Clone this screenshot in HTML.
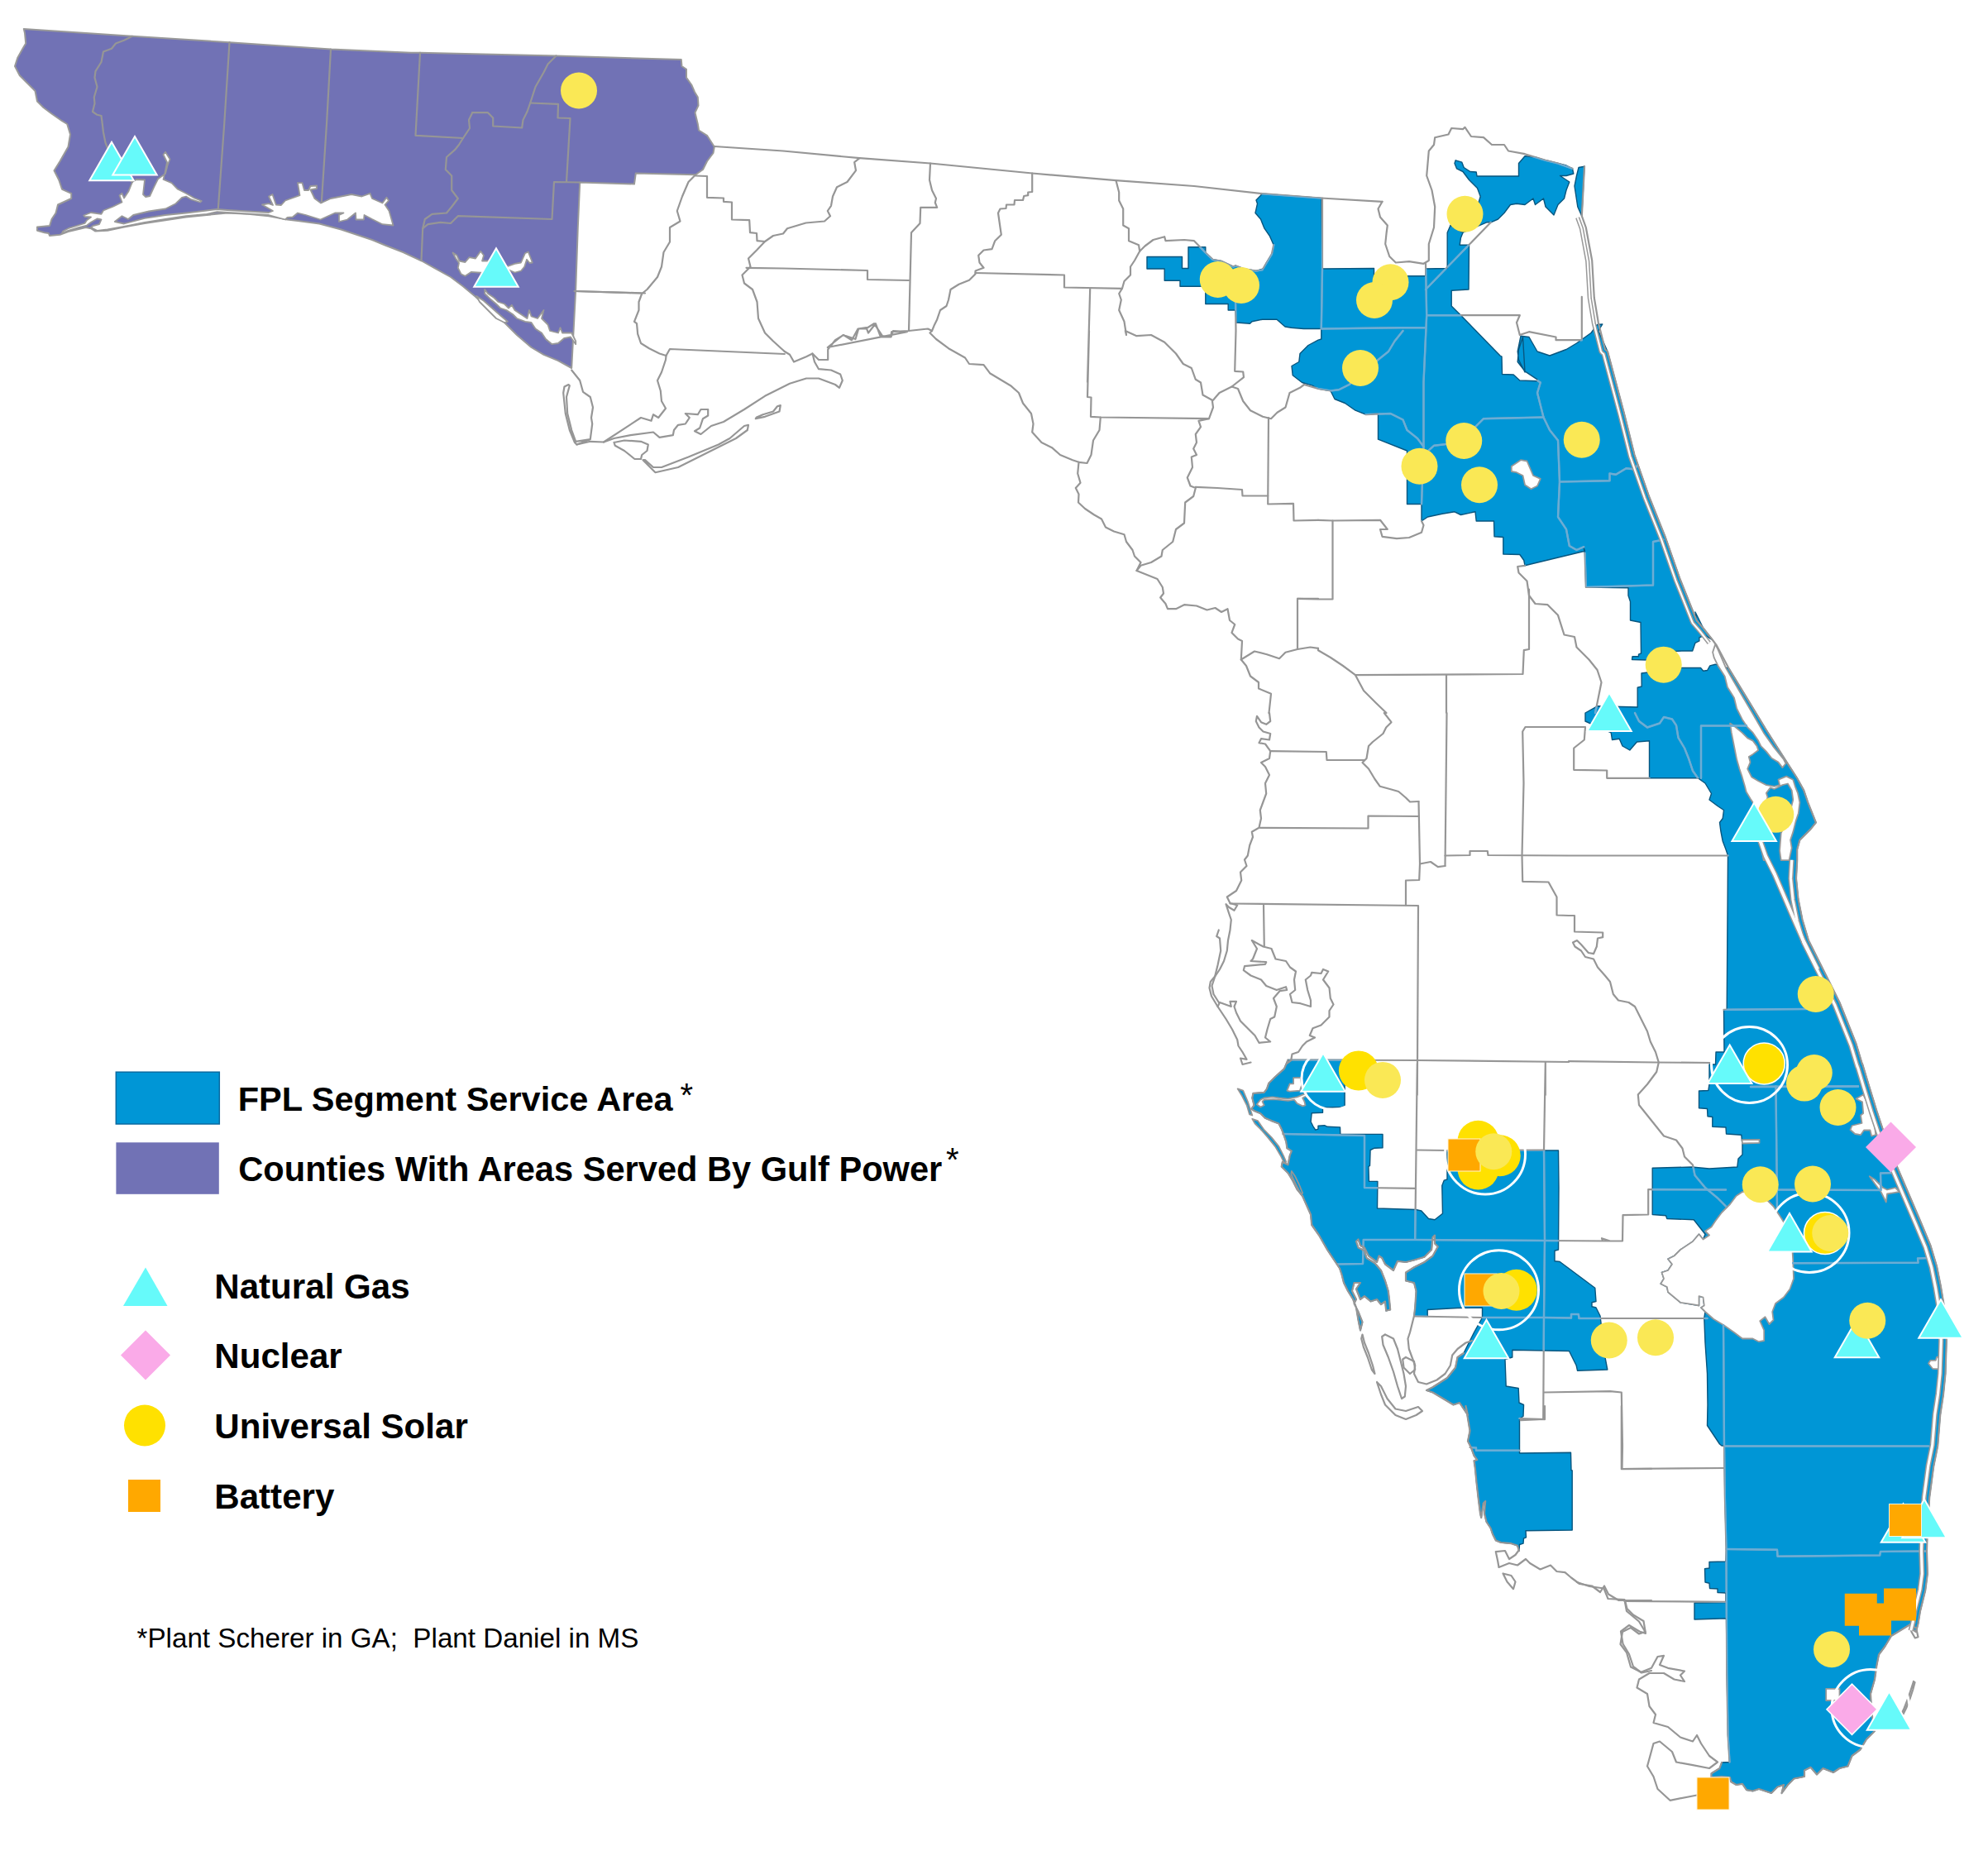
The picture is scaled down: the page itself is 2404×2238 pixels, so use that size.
<!DOCTYPE html><html><head><meta charset="utf-8"><style>html,body{margin:0;padding:0;background:#fff}svg{display:block}text{font-family:"Liberation Sans",sans-serif}</style></head><body><svg width="2404" height="2238" viewBox="0 0 2404 2238">
<g fill="#7172b5" stroke="#999" stroke-width="2" stroke-linejoin="round">
<path d="M28.8,35 L160,43.8 L277.5,51.2 L400,59.5 L497,63.8 L507.5,63.8 L672.5,67.5 L823.8,72 L824.5,80 L830,83.8 L830,93.8 L836.2,102.5 L840,111.2 L843.8,117.5 L844.5,127.5 L840.5,136.2 L843.8,150 L845,157.5 L855,163.8 L863.8,177.5 L862.5,185 L855,195 L850,205 L841.2,211.2 L768.8,209.5 L767,222.5 L701.2,220.5 L698.8,275 L696.2,350 L691.2,445 L675,436.2 L657.5,428.8 L642.5,420 L625,405 L610,390 L590,372.5 L575,358.8 L560,346.2 L545,335 L525,323.8 L510,315.5 L487.5,305 L465,296.2 L450,290 L412.5,277.5 L386.2,270.5 L360,267 L347.5,265.5 L325,261.2 L300,258.8 L275,257.5 L250,260 L225,262.5 L200,266.2 L175,270 L150,274.5 L130,278.8 L115,279.5 L110,276.2 L103.8,275 L82.5,280 L72.5,283.8 L60,285 L58.8,282 L53.8,281.2 L45,278.8 L45,274.5 L60,273 L62.5,265 L67.5,257.5 L70,247.5 L86.2,240 L86.2,233.8 L75,228.8 L71.2,217.5 L65.5,206.2 L72.5,195 L82.5,177.5 L85,162.5 L81.2,150 L75,146.2 L62.5,137.5 L52.5,130 L45,122.5 L42.5,110 L32.5,100 L23.8,91.2 L18,80 L21.2,70 L27.5,58.8 L31.2,52.5 L30,40Z"/>
</g>
<g fill="#0096d6" stroke="#08567f" stroke-width="1.4" stroke-linejoin="round">
<path d="M1387,310.5 L1429.5,310.5 L1429.5,324.5 L1437,324.5 L1437,298.8 L1444,298.8 L1457.8,298.8 L1457.8,305.5 L1466.5,313.8 L1476.5,315.5 L1491.5,322.5 L1494,321.2 L1504,325 L1519,327.5 L1527.8,325 L1531.5,317.5 L1539,305 L1540.2,296.2 L1535.2,285 L1529,276.2 L1524.5,265 L1518,257.5 L1520.5,246.2 L1519,242 L1526.5,234.2 L1597.8,239.5 L1599,325 L1661.5,324.5 L1661.5,333.8 L1724,333.8 L1724,325 L1750.2,324.5 L1750.2,281.2 L1754,272.5 L1769,281.2 L1766.5,287.5 L1765.2,296.2 L1776.5,296.2 L1776,350 L1755.2,351.2 L1755.2,370 L1766.5,381.2 L1814,430 L1816,431.2 L1816.5,452.5 L1830.2,453 L1837.8,460 L1859,460.8 L1859,458.8 L1844,448.8 L1835.2,437.5 L1836.5,422.5 L1841.5,407.5 L1844,450 L1836.5,435 L1835.2,425 L1839,406.2 L1849,407.5 L1859,425 L1874,430 L1894,422.5 L1906.5,415 L1924,402.5 L1931.5,392.5 L1937.8,392 L1932.8,400 L1944,425 L1954,462.5 L1964,500 L1976.5,550 L1994,600 L2014,650 L2031.5,700 L2051.5,750 L2050,740 L2059.7,759.5 L2071.1,774 L2061.3,767.9 L2058.1,769.5 L2054.9,770.8 L2054.9,774.9 L2050,777.3 L2046.7,787 L2033.8,787 L2006.2,788.6 L1991.5,798 L1973.5,797.5 L1974,793.8 L1981.5,793.8 L1981.5,791.2 L1984.5,790 L1984,752.5 L1971.5,750 L1971.5,727.5 L1969,720 L1969,710.8 L1917.8,710 L1916.5,668.8 L1915.2,662.5 L1916.5,666.2 L1844,683.8 L1842.8,677.5 L1837.8,670.5 L1817.8,670 L1817.8,649.5 L1807,648.8 L1806.5,630 L1785.2,630 L1784,618.8 L1766.5,622.5 L1759,618.8 L1744,621.2 L1726.5,625 L1719,630 L1719,609.5 L1701.5,609.5 L1701.5,580 L1701.5,545 L1666.5,531.2 L1666.5,500 L1651.5,501.2 L1639,496.2 L1626.5,487.5 L1614,482.5 L1609,472.5 L1594,470 L1587,466.2 L1574.5,462.5 L1563.2,453.8 L1562,442.5 L1570.8,437.5 L1572,427.5 L1582,417.5 L1594,411.2 L1597.8,410 L1597.8,397.5 L1576.5,397.5 L1561.5,396.2 L1554,395 L1544,386.2 L1526.5,386.2 L1514,388.8 L1511.5,391.2 L1495.2,390 L1494,375 L1485.2,375 L1485.2,367.5 L1457.8,367.5 L1457.8,346.2 L1444,346.2 L1427,346.2 L1427,339.2 L1408.2,339.2 L1408.2,325 L1387,325Z"/>
<path d="M1760.2,193.8 L1767.8,196.2 L1770.2,202.5 L1777.8,207.5 L1785.2,208 L1786,213 L1836.5,213 L1836.5,197.5 L1844,188.8 L1856.5,190 L1869,193.8 L1884,197.5 L1894,200 L1901.5,203.8 L1902.8,210 L1894,212.5 L1886.5,212.5 L1894,217.5 L1897.8,220 L1894,230 L1891.5,240 L1884,247.5 L1879,260 L1874,255 L1869,250 L1866.5,240 L1856.5,247.5 L1854,240 L1844,247.5 L1834,246.2 L1826.5,247.5 L1819,257.5 L1811.5,265 L1802.8,268.8 L1797.8,268.8 L1769,281.2 L1754,272.5 L1769,265 L1786.5,250 L1790.2,237.5 L1786.5,227.5 L1776.5,217.5 L1769,207.5 L1761.5,203.8 L1759,197.5Z"/>
<path d="M1909,202.5 L1916,201.2 L1912.8,261.2 L1907.8,250 L1904,225 L1906.5,212.5Z"/>
<path d="M1985,814 L2034,807.5 L2056.5,807.5 L2059.7,811.3 L2064.6,810.5 L2067.8,804.9 L2074.3,803.2 L2090.5,808.1 L2113.2,845.4 L2135.9,882.7 L2158.6,918.3 L2173.2,941 L2181.3,955.6 L2186.2,970.2 L2195.9,994.5 L2189.4,1002.6 L2176.4,1015.6 L2173.2,1027 L2173.2,1040.1 L2172,1062 L2174.5,1087 L2179.5,1112 L2187,1137 L2199.5,1162 L2212,1187 L2224.5,1212 L2234.5,1237 L2244.5,1262 L2252,1287 L2252,1286 L2259.5,1311 L2269.5,1343.5 L2277,1366 L2292,1406 L2307,1441 L2322,1476 L2334.5,1506 L2342,1531 L2347,1556 L2352,1586 L2353.8,1621 L2352.5,1661 L2350,1686 L2346.2,1711 L2343.2,1748 L2338.2,1773 L2333.2,1810.5 L2330.8,1848 L2330,1875.5 L2330.8,1903 L2328.2,1923 L2322,1948 L2319.5,1963 L2317,1973 L2313.2,1970.5 L2315.8,1960.5 L2287,1978 L2279.5,1990.5 L2272,2000.5 L2269.5,2013 L2267,2030.5 L2262,2048 L2263.2,2070.5 L2267,2093 L2257,2103 L2249.5,2115.5 L2239.5,2123 L2234.5,2135.5 L2224.5,2138 L2217,2143 L2204.5,2138 L2197,2145.5 L2189.5,2136.8 L2182,2140.5 L2182,2148 L2169.5,2150.5 L2162,2158 L2154.5,2168 L2157,2158 L2149.5,2160.5 L2142,2168 L2134.5,2165.5 L2127,2163 L2119.5,2165.5 L2112,2164.2 L2107,2156.8 L2099.5,2158 L2093.2,2154.2 L2092,2149.2 L2069.5,2149.2 L2069.5,2144.2 L2079.5,2138 L2082,2131 L2091.5,2130.5 L2089.5,2098 L2088.2,2023 L2087.5,1956.8 L2049,1958 L2049,1938 L2087,1937.5 L2087,1926 L2077,1925.5 L2077,1921 L2067.5,1920.5 L2067,1914.2 L2062,1913 L2061.5,1896.8 L2067,1896 L2067,1888.5 L2087,1888 L2087.5,1873 L2085.8,1808 L2085,1748 L2082,1748 L2079.5,1746 L2064.5,1723.5 L2065,1698.5 L2064.5,1661 L2062,1623.5 L2060.8,1593.5 L2062,1586 L2057,1581 L2060.8,1578.5 L2059.5,1568.5 L2054.5,1567.2 L2054.5,1578.5 L2047,1577.2 L2032,1574.8 L2024.5,1568.5 L2017,1562.2 L2015.8,1556 L2008.2,1552.2 L2012,1546 L2009.5,1538.5 L2017,1536 L2022,1528.5 L2017,1522.2 L2024.5,1518.5 L2032,1511 L2047,1501 L2054.5,1492.2 L2059.5,1498.5 L2062,1492.2 L2048.2,1474.8 L2015.8,1473.5 L2014.5,1469.8 L1998.2,1468.5 L1998.2,1412.2 L2045.8,1411 L2067,1413 L2100.8,1411 L2102,1401 L2107,1396 L2107,1382.2 L2127,1381 L2127,1379 L2106.5,1379.8 L2105.8,1372.2 L2087.5,1371 L2087,1363 L2070.8,1362.2 L2070.8,1350.5 L2065,1349.8 L2064.5,1340.5 L2054.5,1339.8 L2054.5,1319 L2065.8,1318.5 L2067,1311 L2067,1287 L2074.5,1287 L2075,1272 L2085,1272 L2084.5,1221.5 L2088.2,1220.8 L2089.5,1034.5 L2087,1027 L2083.2,1017 L2080.8,1004.5 L2079.5,994.5 L2083.2,989.5 L2084.5,979.5 L2077,974.5 L2067,967 L2069.5,959.5 L2062,947 L2053.2,940.8 L1994.5,940.8 L1994.5,895.8 L1979.5,897 L1970.8,907 L1962,902 L1958.2,893.2 L1949.5,894.5 L1948.2,885.8 L1917,872 L1917,862 L1931.5,853.8 L1980.2,855 L1980.2,831.2 L1985.2,830Z"/>
<path d="M1557.5,1281.5 L1626.1,1281.5 L1626.1,1337.4 L1622.8,1338.5 L1599.5,1339.1 L1599.5,1345.2 L1586.2,1345.7 L1585.1,1356.2 L1587.9,1361.8 L1590.7,1366.2 L1594,1365.1 L1594,1361.2 L1601.7,1360.7 L1605.1,1362.3 L1620.5,1362.9 L1620.8,1371.2 L1672,1371.4 L1672,1387.8 L1661.5,1388.3 L1657.1,1390.5 L1656.5,1409.4 L1654.9,1410.5 L1655.4,1428.2 L1665.9,1428.4 L1665.5,1461 L1712,1462.5 L1718.8,1464 L1727.5,1473.5 L1735,1474.8 L1744.5,1467.2 L1743.8,1433.5 L1746.2,1427.2 L1750,1426 L1750,1391 L1845,1391 L1884.5,1391 L1885,1436 L1884.5,1511 L1880,1512.2 L1880,1524.8 L1886.2,1525.5 L1928.8,1557.2 L1930,1573.5 L1925,1574.8 L1925,1579.8 L1930,1581 L1935,1591 L1936.2,1601 L1940,1636 L1943.8,1656 L1907.5,1657.2 L1906.2,1651 L1897.5,1633.5 L1828.8,1632.2 L1828.8,1641 L1820,1643.5 L1821.2,1676 L1836.2,1678.5 L1837,1696 L1842.5,1698.5 L1842.5,1700 L1842,1712.5 L1837.5,1715 L1837.5,1757 L1899.5,1756.2 L1900,1777.5 L1901.2,1778 L1901.2,1850 L1845,1850.8 L1845.5,1858.8 L1842.5,1860 L1842,1866.2 L1837.5,1867.5 L1837,1875 L1835,1868.8 L1827.5,1866.2 L1815,1865 L1808.8,1862.5 L1805,1855 L1802.5,1847.5 L1797.5,1840 L1795,1830 L1796.2,1815 L1793.8,1817.5 L1791.2,1835 L1790,1830 L1787.5,1810 L1785.5,1792.5 L1783.8,1775 L1782.5,1766.2 L1786.2,1765 L1782.5,1760 L1778.8,1750 L1775,1742.5 L1777.5,1730 L1775,1715 L1772.5,1700 L1775,1711 L1765,1696 L1757.5,1698.5 L1745,1691 L1732.5,1683.5 L1725,1681 L1732.5,1677.2 L1750,1666 L1760,1653.5 L1762.5,1641 L1770,1636 L1782.5,1611 L1792.5,1593 L1792.5,1581 L1762.5,1581.5 L1726.2,1583.5 L1726.2,1591.5 L1710,1591 L1711.2,1581 L1712.5,1561 L1710,1551 L1700,1548.5 L1700,1538.5 L1710,1532.2 L1722.5,1526 L1732.5,1518.5 L1738.8,1507.2 L1735,1503.5 L1735,1493.5 L1732.5,1496 L1731.2,1511 L1722.5,1519.8 L1710,1523.5 L1700,1526 L1690,1524.8 L1685,1536 L1675,1528.5 L1671.2,1521 L1667.5,1518.5 L1665,1526 L1655,1518.5 L1650,1508.5 L1645,1506 L1642.5,1498.5 L1640,1501 L1642.5,1508.5 L1650,1512.2 L1652.5,1521 L1662.5,1527.2 L1670,1536 L1675,1548.5 L1678.8,1561 L1680,1571 L1681.2,1583.5 L1676.2,1584.8 L1675,1573.5 L1670,1577.2 L1665,1571 L1657.5,1573.5 L1650,1567.2 L1645,1571 L1640,1558.5 L1645,1551 L1637.5,1551 L1635,1561 L1640,1571 L1637.5,1576 L1642.5,1586 L1647.5,1598.5 L1645,1608.5 L1642.5,1596 L1640,1581 L1636.2,1571 L1630,1561 L1625,1551 L1622.5,1541 L1620,1533.5 L1615,1526 L1605,1511 L1595,1493.5 L1586.2,1481 L1585,1468.5 L1575,1446 L1568.5,1438.1 L1563,1427.1 L1557.5,1418.2 L1549.7,1410.5 L1550.8,1404.9 L1557.5,1408.3 L1559.7,1397.2 L1561.9,1391.7 L1556.4,1388.3 L1555.3,1380.6 L1551.9,1370.6 L1549.7,1365.1 L1546.4,1358.5 L1537.5,1355.1 L1529.8,1351.8 L1524.3,1346.3 L1516.5,1343 L1513.2,1340.7 L1516.5,1336.3 L1514.3,1327.5 L1515.4,1321.9 L1528.7,1320.8 L1532,1316.4 L1534.2,1309.8 L1542,1302 L1553,1292.1 L1557.5,1281.5Z"/>
</g>
<g fill="#fff" stroke="#999" stroke-width="1.8" stroke-linejoin="round">
<path d="M101.2,260.5 L110,257 L122.5,258.8 L125,254.5 L136.2,250 L147.5,244.5 L144.5,236.2 L147.5,233.8 L150,239.5 L155.5,231.2 L160,220 L165,217 L175,217.5 L173,235 L176.2,238 L181.2,237 L186.2,226.2 L191.2,216.2 L200,210 L202.5,200 L205.5,192.5 L200,183.8 L197.5,187 L202,196.2 L199.5,208.8 L197.5,217 L207.5,221.2 L215,228.8 L225,233.8 L235,239.5 L243.8,243 L242,244.5 L231.2,241.2 L225,237.5 L220,238.8 L212.5,246.2 L200,252.5 L180,255.5 L161.2,260 L155,265 L147.5,261.2 L138.8,268 L150,270.5 L175,263.8 L200,260 L225,257.5 L250,254.5 L262.5,253 L275,254 L300,255.5 L325,257 L330,255 L317,247.5 L325,246.2 L330,248 L325,237.5 L329.5,235 L333.8,247.5 L340,248 L345,242.5 L362.5,236.2 L360,221.2 L365.5,221.2 L368,230 L373,230 L375.5,225 L383,224.5 L383,228 L375.5,229.5 L380.5,240 L388,245.5 L400,240 L425,235 L437.5,237.5 L447.5,233.8 L450,240 L462.5,245.5 L467.5,238.8 L470,242.5 L465.5,247.5 L470.5,255 L475.5,272.5 L462.5,271.2 L450,265 L440.5,260 L440,265.5 L430.5,265.5 L430,257.5 L420,265.5 L410,268 L410,260 L415.5,257.5 L405,257.5 L387.5,265.5 L370,260 L360,257.5 L353.8,262.5 L347.5,263 L345,265.5 L325,260 L300,258.5 L275,257 L262.5,256.2 L250,258.8 L225,261.2 L200,265 L175,268.8 L150,273.8 L130,277.5 L117.5,278.8 L110,275 L112.5,273 L120,271.2 L122.5,265.5 L117.5,264.5 L110,268.8 L105,272.5 L95,275 L82.5,278.8 L75,282 L76.2,279.5 L82.5,276.2 L102.5,270 L105,266.2 L110,262.5 L102.5,262Z"/>
<path d="M547.5,305.5 L552.5,308.8 L555.5,315.5 L562.5,317 L567.5,311.2 L575,312.5 L581.2,303.8 L585,308.8 L583,315.5 L595,315.5 L605,320 L612.5,322.5 L622.5,318.8 L630,317.5 L635,306.2 L638.8,304.5 L643.8,317.5 L640.5,318 L637,313.8 L634.2,322.5 L630,327.5 L622.5,329.5 L615,326.2 L610,327.5 L600,330 L585,330 L570,328.8 L562.5,333.8 L557.5,331.2 L553.8,323.8 L555,318 L551.2,312.5Z"/>
<path d="M586.2,350 L590,355 L597.5,360 L602.5,365 L610,367.5 L615,372.5 L618.8,368.8 L622.5,375 L630,380 L637.5,385 L640,375 L642.5,382.5 L650,385 L657.5,375 L655,385 L662.5,392.5 L665,400 L675,402.5 L677.5,396.2 L680,402.5 L691.2,402.5 L696.2,412.5 L696.2,416.2 L690,407.5 L682.5,408.8 L675,415 L667.5,416.2 L660,410 L655,402.5 L647.5,397.5 L642.5,390 L635,388.8 L625,385 L620,380 L612.5,375 L605,372.5 L600,367.5 L592.5,361.2 L586.2,355Z"/>
<path d="M576.2,358 L585,363.8 L595,372.5 L605,381.2 L613.8,388.8 L610,390 L600,385 L590,375 L580,365Z"/>
<path d="M1827.8,563.8 L1839,556.2 L1846.5,557.5 L1854,575 L1862.8,578.8 L1859,587.5 L1851.5,591.2 L1844,586.2 L1841.5,575 L1834,571.2 L1827.8,570Z"/>
<path d="M2107,1441 L2099.5,1446 L2092,1456 L2082,1466 L2074.5,1476 L2069.5,1483.5 L2062,1488.5 L2067,1493.5 L2059.5,1498.5 L2054.5,1492.2 L2047,1501 L2032,1511 L2024.5,1518.5 L2017,1522.2 L2022,1528.5 L2017,1536 L2009.5,1538.5 L2012,1546 L2008.2,1552.2 L2015.8,1556 L2017,1562.2 L2024.5,1568.5 L2032,1574.8 L2047,1577.2 L2054.5,1578.5 L2054.5,1567.2 L2059.5,1568.5 L2060.8,1578.5 L2057,1581 L2062,1586 L2072,1594.8 L2084.5,1602.2 L2097,1611 L2107,1618.5 L2119.5,1618.5 L2127,1622.2 L2133.2,1621 L2133.2,1608.5 L2128.2,1597.2 L2134.5,1592.2 L2139.5,1601 L2144.5,1596 L2143.2,1586 L2147,1576 L2157,1568.5 L2164.5,1558.5 L2169,1546 L2168.2,1523.5 L2167,1503.5 L2162,1486 L2154.5,1473.5 L2144.5,1458.5 L2132,1446 L2119.5,1439.8Z"/>
<path d="M2208.2,2041.8 L2224.5,2041.8 L2224.5,2056 L2208.2,2056Z"/>
<path d="M2244.5,1328.5 L2252,1332.2 L2253.2,1346 L2250,1348.5 L2251.5,1358 L2239.5,1361 L2237.5,1366 L2243.2,1371 L2250,1372.2 L2254,1366.5 L2261.5,1366.5 L2263.2,1373.5 L2268.2,1372.2 L2267,1361 L2262,1346 L2257,1331 L2253.2,1323.5Z"/>
<path d="M2347.5,1639.8 L2342,1641 L2340.8,1644.8 L2334.5,1644.8 L2332,1648.5 L2337,1654.8 L2347.5,1655.5Z"/>
<path d="M2260.8,1422.2 L2267,1426 L2277,1436 L2282,1438.5 L2292,1436 L2297,1441 L2282,1443.5 L2280.8,1453.5 L2274.5,1441 L2267,1431Z"/>
<path d="M2071.1,788.6 L2074.3,778.9 L2077.5,785.4 L2087.3,808.1 L2103.5,835.7 L2119.7,863.2 L2132.7,885.9 L2144,902.1 L2157,918.3 L2159.4,923.2 L2155.4,928.1 L2150.5,921.6 L2142.4,916.7 L2135.9,908.6 L2129.4,902.1 L2126.2,895.6 L2119.7,885.9 L2113.2,879.4 L2106.7,869.7 L2100.2,856.7 L2097,843.8 L2088.9,830.8 L2085.7,817.8 L2077.5,804.9 L2072.7,795.1Z"/>
<path d="M2092.1,874.6 L2097,877.8 L2106.7,885.9 L2113.2,892.4 L2119.7,895.6 L2124.6,902.1 L2126.2,907 L2119.7,911.9 L2114.8,915.1 L2116.5,921.6 L2113.2,929.7 L2118.1,939.4 L2126.2,944.3 L2135.9,949.1 L2145.6,950.8 L2152.1,949.1 L2150.5,942.7 L2160.2,938.6 L2168.3,942.7 L2170.8,950.8 L2174,958.9 L2176.4,970.2 L2174.8,983.2 L2171.6,992.9 L2168.3,1005.9 L2165.1,1015.6 L2166.7,1025.3 L2163.5,1040.1 L2153.7,1040.1 L2152.1,1028.6 L2153.7,1007.5 L2160.2,992.9 L2165.1,979.9 L2168.3,967 L2166.7,955.6 L2161.9,947.5 L2155.4,949.1 L2152.1,950.8 L2145.6,954 L2140.8,952.4 L2135.9,958.9 L2137.5,963.7 L2132.7,983.2 L2129.4,1015.6 L2139.2,1040.1 L2132.7,1040.1 L2127.8,1015.6 L2119.7,970.2 L2116.5,965.4 L2111.6,957.3 L2110,950.8 L2106.7,939.4 L2103.5,929.7 L2100.2,918.3 L2097,902.1 L2093.8,885.9Z"/>
<path d="M1528.7,1327.5 L1538.7,1326.4 L1546.4,1327.5 L1557.5,1328.6 L1568.5,1326.4 L1574.1,1324.1 L1579.6,1321.9 L1579.6,1325.3 L1575.2,1327.5 L1577.4,1331.9 L1578.5,1336.3 L1575.2,1337.4 L1568.5,1334.1 L1565.2,1329.7 L1557.5,1330.8 L1546.4,1329.7 L1539.8,1329.1 L1528.7,1329.7 L1526.5,1331.9 L1528.7,1336.3 L1524.3,1338.5 L1519.8,1335.2 L1524.3,1329.7Z"/>
<path d="M1556.4,1318.6 L1559.7,1310.3 L1564.1,1310.3 L1564.1,1303.1 L1573,1302.9 L1574.1,1312 L1571.9,1318.6 L1559.7,1319.7Z"/>
<path d="M2106.5,1378.2 L2127.5,1377.8 L2127.5,1381.8 L2107,1382.5Z"/>
</g>
<g fill="none" stroke="#969696" stroke-width="2.2" stroke-linejoin="round" stroke-linecap="round">
<path d="M160,43.8 L150,48.8 L140,52.5 L135,58.8 L125,62.5 L122.5,75 L115.5,86.2 L114.5,93.8 L117.5,105 L113.8,117.5 L114.5,125 L112,135 L117.5,138.8 L122.5,140 L123.8,150 L125,160 L127.5,172.5 L132.5,185 L140,200 L150,212.5 L160,220"/>
<path d="M277.5,51.2 L271.2,150 L263.8,252.5"/>
<path d="M400,59.5 L395,150 L388.8,245"/>
<path d="M508,63.8 L502.5,163.8 L560,167"/>
<path d="M571.2,136.2 L567,145 L568,155 L560,167 L555,175 L550,181.2 L540,190 L538.8,205 L546.2,212.5 L546.2,230 L553.8,240 L546.2,250 L540,257.5 L522.5,258.8 L513.8,265 L511.2,276.2 L509.5,315"/>
<path d="M511.2,276.2 L517.5,271.2 L532.5,268.8 L545,270 L553.8,261.2 L667.5,265 L670,220 L701.2,220.5"/>
<path d="M571.2,136.2 L590,136.2 L596.2,142.5 L596.2,152.5 L631.2,154.5 L632.5,145 L637.5,135 L641.2,124.5 L647.5,105 L657.5,87.5 L662.5,77.5 L672.5,67.5"/>
<path d="M641.2,124.5 L675,125.8 L674.5,142.5 L689.5,143 L685,220"/>
<path d="M863.8,177 L947,182.5 L1039.5,191.2 L1125,197.5 L1248.2,209.5 L1349.5,218.2 L1444,225 L1526.5,234.2 L1597.8,239.5 L1671.5,243.8"/>
<path d="M841.2,211.2 L832.5,220 L825,237.5 L818.8,255 L822.5,267.5 L810,275 L810,292.5 L802.5,305 L800,322.5 L795,335 L782.5,350 L782.5,350 L776.2,355 L772.5,365 L772.5,375 L767,388.8 L770,391.2 L771.2,403.8 L775,415 L785,421.2 L797.5,427.5 L805.5,430 L805,435 L800,450 L795,460 L798.8,472.5 L800,485 L805,493.8 L796.2,505 L790,501.2 L787.5,508.8 L775,505 L730,534.5"/>
<path d="M695,352 L775,354.5"/>
<path d="M841.2,212.5 L855,213 L855,238.8 L875,239.5 L875,243.8 L885,244.5 L885,265.5 L906.2,266.2 L907,281.2 L915,282 L915.5,291.2 L925,292"/>
<path d="M1039.5,191.2 L1033.2,196.2 L1035,206.2 L1024.5,220 L1012,226.2 L1007,237.5 L1005,248.8 L1000.8,255 L1004,261.2 L997,267.5 L974.5,269.5 L964.5,272.5 L952,276.2 L947,282.5 L935,285 L925,292 L915,302.5 L905,312.5 L907.5,322.5 L897.5,332.5 L900,342.5 L910,350 L910,350 L915.5,365 L917,385 L925,402.5 L935,412.5 L948.8,425"/>
<path d="M902.5,323.8 L947,324.5 L1049,327 L1049,338 L1099,339"/>
<path d="M694.5,352 L780,354.5"/>
<path d="M805.5,430 L810,422 L948.8,428"/>
<path d="M1125,197.5 L1124,217.5 L1127,230 L1132,240 L1130.8,245 L1133.2,250.8 L1113.2,250.8 L1112.5,270 L1102,281.2 L1099,400"/>
<path d="M1248.2,209.5 L1248.2,232 L1243.2,232.5 L1243.2,236.2 L1238.2,237 L1237,242 L1227,242 L1226.5,247.5 L1217,247.5 L1216.5,252 L1209.5,252.5 L1207,257.5 L1209.5,275 L1210.8,283.8 L1203.2,291.2 L1199.5,301.2 L1189.5,302.5 L1183.2,308.8 L1184.5,317.5 L1189.5,323.8 L1179.5,327.5 L1179.5,331.2 L1172,338.8 L1159.5,343.8 L1149.5,350 L1147,362.5 L1144.5,370 L1137,375 L1133.2,386.2 L1129.5,393.8 L1127,400"/>
<path d="M1179.5,330 L1287,332.5 L1287,347.5 L1357,348.8"/>
<path d="M1349.5,218.2 L1353.2,232.5 L1353.2,242.5 L1358.2,252.5 L1358.2,272.5 L1365,276.2 L1365,291.2 L1377,296.2 L1378.2,303.8"/>
<path d="M1540.2,296.2 L1537.8,307.5 L1530.2,320 L1526.5,326.2 L1519,327.5 L1504,325 L1494,321.2 L1491.5,322.5 L1476.5,315.5 L1466.5,313.8 L1457.8,305.5 L1444,291.2 L1432,290 L1409.5,291.2 L1408.2,286.2 L1394.5,290 L1384.5,297.5 L1378.2,303.8 L1372,315 L1367,322.5 L1367,332.5 L1359.5,340 L1357,348.8 L1353.2,355 L1355.8,362.5 L1353.2,375 L1359.5,388.8 L1362,405 L1360.8,400 L1374.5,406.2 L1392,405 L1408.2,413.8 L1422,427.5 L1430.8,440 L1440.8,445 L1445.8,458.8 L1452,462.5 L1454.5,477.5 L1465.8,483.8 L1467,492.5 L1462,506.2 L1449.5,508.8 L1452,516.2 L1445.8,525 L1447,535 L1443.2,542.5 L1447,550 L1440.8,552.5 L1442,565 L1435.8,577.5 L1439.5,587.5 L1445.8,590 L1443.2,600 L1433.2,607.5 L1432,632.5 L1422,640 L1418.2,655 L1405.8,665 L1404.5,672.5 L1392,680 L1379.5,683.8 L1374.5,690"/>
<path d="M1318.2,349.5 L1315,462 L1317,400 L1315,480 L1319.5,480.5 L1319,503.8 L1330.8,504.5 L1462,506.2"/>
<path d="M1330.8,504.5 L1329.5,520 L1322,532.5 L1319.5,550 L1314.5,560 L1304.5,558.8"/>
<path d="M1467,483.8 L1474.5,475 L1489.5,467.5 L1497,470 L1503.2,485 L1512,496.2 L1527,503.8 L1537,506.2 L1544.5,498.8 L1554.5,492.5 L1559.5,475 L1572,468.8 L1577,465 L1594,470 L1609,472.5 L1619,471.2 L1631.5,465 L1666.5,435 L1679,425 L1686.5,412.5 L1696.5,400"/>
<path d="M1494,360 L1494.5,400 L1493.2,448.8 L1503.2,449.5 L1504,456.2 L1489.5,467.5"/>
<path d="M1534,505 L1533.2,609.5 L1564,608.8 L1564.5,629.5 L1594,628.8"/>
<path d="M1445.8,588.8 L1472,590 L1502,592 L1502.5,599.5 L1533.2,599.5"/>
<path d="M1594,723.8 L1569,723.8 L1569,785"/>
<path d="M1500.8,797.5 L1517,787.5 L1532,791.2 L1547,796.2 L1554.5,788.8 L1569,785 L1584.5,782.5 L1594,783.8"/>
<path d="M1599,239.5 L1599,325 L1597.8,397.5"/>
<path d="M1671.5,243.8 L1666.5,252.5 L1669,262.5 L1677.8,272.5 L1676.5,282.5 L1675.2,295 L1680.2,310 L1687.8,317.5 L1704,316.2 L1721.5,318.8 L1727.8,315 L1727.8,295 L1734,275 L1735.2,250 L1731.5,230 L1725.2,212.5 L1727.8,182.5 L1734,175 L1735.2,166.2 L1751.5,162.5 L1755.2,155 L1769,156.2 L1771.5,153.8 L1779,165 L1794,166.2 L1804,175 L1819,175 L1824,182.5 L1844,186.2 L1856.5,190 L1869,193.8 L1884,197.5 L1901.5,203.8"/>
<path d="M1724,318.8 L1725.2,381.2 L1721.5,462 L1721.5,542.5 L1719,609.5"/>
<path d="M1802.8,268.8 L1724,350"/>
<path d="M1597.8,397.5 L1694,396.2 L1722.8,396.2"/>
<path d="M1725.2,381.2 L1837.8,381.2 L1834,390 L1837.8,405 L1849,401.2 L1881.5,407.5 L1881.5,411.2 L1912.8,411.2 L1912.8,358.8"/>
<path d="M1866.5,504.5 L1794,506.2 L1784,516.2 L1749,537 L1734,538.8 L1721.5,550"/>
<path d="M1859,460 L1862.8,462.5 L1859,475 L1866.5,504.5 L1874,520 L1884,532.5 L1886,582.5 L1884,625 L1894,640 L1897.8,660 L1906.5,665 L1915.2,661.2"/>
<path d="M1886,582.5 L1946.5,581.2 L1946.5,572.5 L1954,573.8 L1966.5,566.2 L1976.5,567.5 L1980.2,562.5"/>
<path d="M1916.5,668.8 L1917.8,710 L1999,707.5 L1999,655 L2011.5,652.5"/>
<path d="M1594,628.8 L1611.5,629.5 L1669,628.8 L1677.8,640 L1669,640 L1671.5,648.8 L1689,651.2 L1704,650 L1719,643.8 L1721.5,635 L1719,630"/>
<path d="M1611.5,629.5 L1611.5,724.5 L1594,724.5 L1569,723.8"/>
<path d="M1844,683.8 L1835.2,685 L1836.5,692.5 L1846.5,702.5 L1849,720 L1856.5,730 L1871.5,731.2 L1884,743.8 L1891.5,767.5 L1904,770 L1906.5,782.5 L1921.5,797.5 L1931.5,810 L1936.5,825 L1931.5,850 L1929,862"/>
<path d="M1849,712.5 L1849,785 L1842.8,786.2 L1841.5,815 L1639,816.2"/>
<path d="M1749,816.2 L1749,862 L1749.5,862 L1747.5,1047"/>
<path d="M1594,783.8 L1594,786.2 L1609,795 L1624,805 L1639,816.2 L1649,835 L1664,850 L1676.5,862 L1673.8,862 L1682.5,873.2 L1676.2,879.5 L1672.5,887 L1660,897 L1655,902 L1652.5,917 L1647.5,922 L1655,929.5 L1662.5,942 L1668.8,950.8 L1682.5,954.5 L1691.2,957 L1700,964.5 L1705,969.5 L1715.5,969"/>
<path d="M1651.5,501.2 L1681.5,500 L1696.5,507.5 L1701.5,520 L1714,530 L1721.5,540"/>
<path d="M1536.2,908.2 L1603.8,909 L1604.5,919 L1650,919"/>
<path d="M1523.8,1000.8 L1654.5,1001.5 L1654.5,986.5 L1715.5,987"/>
<path d="M1715.5,969 L1717,1044.5 L1730,1042 L1738.8,1048.2 L1747.5,1047"/>
<path d="M1717,1044.5 L1716.2,1064 L1700,1064.5 L1700,1094.5"/>
<path d="M1487.5,1092.5 L1715,1095 L1713.8,1324 L1713.8,1286 L1712.5,1391 L1711.2,1498.5"/>
<path d="M1528,1094.5 L1528.8,1144.5"/>
<path d="M1560,1281.5 L1713.8,1282 L1897,1284"/>
<path d="M1747.5,1034.5 L1777.5,1034 L1777.5,1029 L1798.8,1029 L1799.5,1034 L1897,1034.5 L2089.5,1034.5"/>
<path d="M1897,879 L1844.5,879 L1841.2,884.5 L1842.5,947 L1840.5,1034.5 L1841.2,1065.8 L1872.5,1066.5 L1882.5,1084.5 L1882.5,1106.5 L1897,1107 L1904,1107 L1904,1126.5 L1938.2,1127.5 L1938.2,1133.2 L1932,1134.5 L1930.8,1144.5 L1927,1153.2 L1920.8,1152 L1912,1142 L1907,1137 L1902,1139.5 L1904.5,1144.5 L1912,1149.5 L1917,1157 L1927,1159.5 L1932,1169.5 L1940.8,1179.5 L1947,1187 L1950.8,1202 L1957,1209.5 L1969.5,1212 L1977,1217 L1984.5,1232 L1992,1247 L1995.8,1259.5 L2002,1272 L2005.8,1284.5 L2003.2,1296 L1992,1311 L1980.8,1323.5 L1982,1336 L1992,1348.5 L2002,1361 L2012,1373.5 L2027,1378.5 L2034.5,1388.5 L2037,1398.5 L2047,1408.5 L2049.5,1421 L2062,1436 L2077,1448.5 L2087,1458.5"/>
<path d="M1868.8,1284 L1868.8,1324 L1868.8,1286 L1867,1391 L1868,1498.5 L1867,1592.2 L1866.2,1716 L1838.8,1717.2"/>
<path d="M1897,879 L1917,879 L1915.8,894.5 L1903.2,904.5 L1903.2,930.8 L1943.2,931.5 L1943.2,940.8 L1994.5,940.8"/>
<path d="M2057,940.8 L2057,877.5 L2112,877.5"/>
<path d="M1977,862 L1982,872 L1992,879.5 L2007,874.5 L2012,867 L2022,869.5 L2027,877 L2029.5,892 L2037,904.5 L2042,917 L2047,932 L2053.2,940.8"/>
<path d="M2084.5,1220.8 L2184.5,1220"/>
<path d="M1897,1283.2 L2002,1284.5 L2069.5,1285"/>
<path d="M2117,1314 L2247,1313.5"/>
<path d="M1551.2,1371 L1650,1373 L1650,1436 L1712,1436.8"/>
<path d="M1713.8,1390.5 L1750,1391 L1867.5,1390.5"/>
<path d="M1617.5,1528.5 L1648,1528 L1648.8,1499 L1711.2,1499 L1868,1500 L1947,1500.5 L1937,1497.2 L1938.2,1500.5 L1962,1500.5 L1962.5,1469.2 L1993.2,1468.5 L1993.2,1438 L2087,1438.5"/>
<path d="M1710,1591.5 L1792.5,1593 L1867,1593 L1900,1593.5 L1900,1589 L1908.8,1589 L1909.5,1594 L1947,1594 L2064.5,1594"/>
<path d="M1867,1683.5 L1947,1682.2 L1960.8,1683.5 L1962,1748 L1961.5,1776 L2085,1775"/>
<path d="M2147.5,1313.5 L2149,1461"/>
<path d="M2117,1314 L2247,1313.5"/>
<path d="M2149,1438.5 L2274.5,1439 L2274,1418.5 L2289.5,1418"/>
<path d="M2168.2,1527.2 L2319.5,1526.8 L2319,1521.5 L2332,1521"/>
<path d="M2084,1602.2 L2085,1748 L2085.8,1808 L2087.5,1873 L2088.2,2023 L2089.5,2098 L2091.5,2130.5"/>
<path d="M2085,1748.5 L2332,1748.5"/>
<path d="M2087.5,1873 L2149,1873.8 L2149.5,1881.8 L2273.2,1880.5 L2274,1876 L2329.5,1875.5"/>
<path d="M1964.5,1936 L2087,1936.8"/>
<path d="M1777.5,1750 L1785,1750.5 L1785,1753.8 L1837.5,1753.8"/>
<path d="M1837.5,1715 L1868,1716.2 L1868,1700"/>
<path d="M1960.8,1700 L1960.8,1776.2 L1997,1775.8"/>
<path d="M1965,1935 L1997,1935"/>
</g>
<clipPath id="bc"><path d="M1387,310.5 L1429.5,310.5 L1429.5,324.5 L1437,324.5 L1437,298.8 L1444,298.8 L1457.8,298.8 L1457.8,305.5 L1466.5,313.8 L1476.5,315.5 L1491.5,322.5 L1494,321.2 L1504,325 L1519,327.5 L1527.8,325 L1531.5,317.5 L1539,305 L1540.2,296.2 L1535.2,285 L1529,276.2 L1524.5,265 L1518,257.5 L1520.5,246.2 L1519,242 L1526.5,234.2 L1597.8,239.5 L1599,325 L1661.5,324.5 L1661.5,333.8 L1724,333.8 L1724,325 L1750.2,324.5 L1750.2,281.2 L1754,272.5 L1769,281.2 L1766.5,287.5 L1765.2,296.2 L1776.5,296.2 L1776,350 L1755.2,351.2 L1755.2,370 L1766.5,381.2 L1814,430 L1816,431.2 L1816.5,452.5 L1830.2,453 L1837.8,460 L1859,460.8 L1859,458.8 L1844,448.8 L1835.2,437.5 L1836.5,422.5 L1841.5,407.5 L1844,450 L1836.5,435 L1835.2,425 L1839,406.2 L1849,407.5 L1859,425 L1874,430 L1894,422.5 L1906.5,415 L1924,402.5 L1931.5,392.5 L1937.8,392 L1932.8,400 L1944,425 L1954,462.5 L1964,500 L1976.5,550 L1994,600 L2014,650 L2031.5,700 L2051.5,750 L2050,740 L2059.7,759.5 L2071.1,774 L2061.3,767.9 L2058.1,769.5 L2054.9,770.8 L2054.9,774.9 L2050,777.3 L2046.7,787 L2033.8,787 L2006.2,788.6 L1991.5,798 L1973.5,797.5 L1974,793.8 L1981.5,793.8 L1981.5,791.2 L1984.5,790 L1984,752.5 L1971.5,750 L1971.5,727.5 L1969,720 L1969,710.8 L1917.8,710 L1916.5,668.8 L1915.2,662.5 L1916.5,666.2 L1844,683.8 L1842.8,677.5 L1837.8,670.5 L1817.8,670 L1817.8,649.5 L1807,648.8 L1806.5,630 L1785.2,630 L1784,618.8 L1766.5,622.5 L1759,618.8 L1744,621.2 L1726.5,625 L1719,630 L1719,609.5 L1701.5,609.5 L1701.5,580 L1701.5,545 L1666.5,531.2 L1666.5,500 L1651.5,501.2 L1639,496.2 L1626.5,487.5 L1614,482.5 L1609,472.5 L1594,470 L1587,466.2 L1574.5,462.5 L1563.2,453.8 L1562,442.5 L1570.8,437.5 L1572,427.5 L1582,417.5 L1594,411.2 L1597.8,410 L1597.8,397.5 L1576.5,397.5 L1561.5,396.2 L1554,395 L1544,386.2 L1526.5,386.2 L1514,388.8 L1511.5,391.2 L1495.2,390 L1494,375 L1485.2,375 L1485.2,367.5 L1457.8,367.5 L1457.8,346.2 L1444,346.2 L1427,346.2 L1427,339.2 L1408.2,339.2 L1408.2,325 L1387,325Z"/><path d="M1760.2,193.8 L1767.8,196.2 L1770.2,202.5 L1777.8,207.5 L1785.2,208 L1786,213 L1836.5,213 L1836.5,197.5 L1844,188.8 L1856.5,190 L1869,193.8 L1884,197.5 L1894,200 L1901.5,203.8 L1902.8,210 L1894,212.5 L1886.5,212.5 L1894,217.5 L1897.8,220 L1894,230 L1891.5,240 L1884,247.5 L1879,260 L1874,255 L1869,250 L1866.5,240 L1856.5,247.5 L1854,240 L1844,247.5 L1834,246.2 L1826.5,247.5 L1819,257.5 L1811.5,265 L1802.8,268.8 L1797.8,268.8 L1769,281.2 L1754,272.5 L1769,265 L1786.5,250 L1790.2,237.5 L1786.5,227.5 L1776.5,217.5 L1769,207.5 L1761.5,203.8 L1759,197.5Z"/><path d="M1909,202.5 L1916,201.2 L1912.8,261.2 L1907.8,250 L1904,225 L1906.5,212.5Z"/><path d="M1985,814 L2034,807.5 L2056.5,807.5 L2059.7,811.3 L2064.6,810.5 L2067.8,804.9 L2074.3,803.2 L2090.5,808.1 L2113.2,845.4 L2135.9,882.7 L2158.6,918.3 L2173.2,941 L2181.3,955.6 L2186.2,970.2 L2195.9,994.5 L2189.4,1002.6 L2176.4,1015.6 L2173.2,1027 L2173.2,1040.1 L2172,1062 L2174.5,1087 L2179.5,1112 L2187,1137 L2199.5,1162 L2212,1187 L2224.5,1212 L2234.5,1237 L2244.5,1262 L2252,1287 L2252,1286 L2259.5,1311 L2269.5,1343.5 L2277,1366 L2292,1406 L2307,1441 L2322,1476 L2334.5,1506 L2342,1531 L2347,1556 L2352,1586 L2353.8,1621 L2352.5,1661 L2350,1686 L2346.2,1711 L2343.2,1748 L2338.2,1773 L2333.2,1810.5 L2330.8,1848 L2330,1875.5 L2330.8,1903 L2328.2,1923 L2322,1948 L2319.5,1963 L2317,1973 L2313.2,1970.5 L2315.8,1960.5 L2287,1978 L2279.5,1990.5 L2272,2000.5 L2269.5,2013 L2267,2030.5 L2262,2048 L2263.2,2070.5 L2267,2093 L2257,2103 L2249.5,2115.5 L2239.5,2123 L2234.5,2135.5 L2224.5,2138 L2217,2143 L2204.5,2138 L2197,2145.5 L2189.5,2136.8 L2182,2140.5 L2182,2148 L2169.5,2150.5 L2162,2158 L2154.5,2168 L2157,2158 L2149.5,2160.5 L2142,2168 L2134.5,2165.5 L2127,2163 L2119.5,2165.5 L2112,2164.2 L2107,2156.8 L2099.5,2158 L2093.2,2154.2 L2092,2149.2 L2069.5,2149.2 L2069.5,2144.2 L2079.5,2138 L2082,2131 L2091.5,2130.5 L2089.5,2098 L2088.2,2023 L2087.5,1956.8 L2049,1958 L2049,1938 L2087,1937.5 L2087,1926 L2077,1925.5 L2077,1921 L2067.5,1920.5 L2067,1914.2 L2062,1913 L2061.5,1896.8 L2067,1896 L2067,1888.5 L2087,1888 L2087.5,1873 L2085.8,1808 L2085,1748 L2082,1748 L2079.5,1746 L2064.5,1723.5 L2065,1698.5 L2064.5,1661 L2062,1623.5 L2060.8,1593.5 L2062,1586 L2057,1581 L2060.8,1578.5 L2059.5,1568.5 L2054.5,1567.2 L2054.5,1578.5 L2047,1577.2 L2032,1574.8 L2024.5,1568.5 L2017,1562.2 L2015.8,1556 L2008.2,1552.2 L2012,1546 L2009.5,1538.5 L2017,1536 L2022,1528.5 L2017,1522.2 L2024.5,1518.5 L2032,1511 L2047,1501 L2054.5,1492.2 L2059.5,1498.5 L2062,1492.2 L2048.2,1474.8 L2015.8,1473.5 L2014.5,1469.8 L1998.2,1468.5 L1998.2,1412.2 L2045.8,1411 L2067,1413 L2100.8,1411 L2102,1401 L2107,1396 L2107,1382.2 L2127,1381 L2127,1379 L2106.5,1379.8 L2105.8,1372.2 L2087.5,1371 L2087,1363 L2070.8,1362.2 L2070.8,1350.5 L2065,1349.8 L2064.5,1340.5 L2054.5,1339.8 L2054.5,1319 L2065.8,1318.5 L2067,1311 L2067,1287 L2074.5,1287 L2075,1272 L2085,1272 L2084.5,1221.5 L2088.2,1220.8 L2089.5,1034.5 L2087,1027 L2083.2,1017 L2080.8,1004.5 L2079.5,994.5 L2083.2,989.5 L2084.5,979.5 L2077,974.5 L2067,967 L2069.5,959.5 L2062,947 L2053.2,940.8 L1994.5,940.8 L1994.5,895.8 L1979.5,897 L1970.8,907 L1962,902 L1958.2,893.2 L1949.5,894.5 L1948.2,885.8 L1917,872 L1917,862 L1931.5,853.8 L1980.2,855 L1980.2,831.2 L1985.2,830Z"/><path d="M1557.5,1281.5 L1626.1,1281.5 L1626.1,1337.4 L1622.8,1338.5 L1599.5,1339.1 L1599.5,1345.2 L1586.2,1345.7 L1585.1,1356.2 L1587.9,1361.8 L1590.7,1366.2 L1594,1365.1 L1594,1361.2 L1601.7,1360.7 L1605.1,1362.3 L1620.5,1362.9 L1620.8,1371.2 L1672,1371.4 L1672,1387.8 L1661.5,1388.3 L1657.1,1390.5 L1656.5,1409.4 L1654.9,1410.5 L1655.4,1428.2 L1665.9,1428.4 L1665.5,1461 L1712,1462.5 L1718.8,1464 L1727.5,1473.5 L1735,1474.8 L1744.5,1467.2 L1743.8,1433.5 L1746.2,1427.2 L1750,1426 L1750,1391 L1845,1391 L1884.5,1391 L1885,1436 L1884.5,1511 L1880,1512.2 L1880,1524.8 L1886.2,1525.5 L1928.8,1557.2 L1930,1573.5 L1925,1574.8 L1925,1579.8 L1930,1581 L1935,1591 L1936.2,1601 L1940,1636 L1943.8,1656 L1907.5,1657.2 L1906.2,1651 L1897.5,1633.5 L1828.8,1632.2 L1828.8,1641 L1820,1643.5 L1821.2,1676 L1836.2,1678.5 L1837,1696 L1842.5,1698.5 L1842.5,1700 L1842,1712.5 L1837.5,1715 L1837.5,1757 L1899.5,1756.2 L1900,1777.5 L1901.2,1778 L1901.2,1850 L1845,1850.8 L1845.5,1858.8 L1842.5,1860 L1842,1866.2 L1837.5,1867.5 L1837,1875 L1835,1868.8 L1827.5,1866.2 L1815,1865 L1808.8,1862.5 L1805,1855 L1802.5,1847.5 L1797.5,1840 L1795,1830 L1796.2,1815 L1793.8,1817.5 L1791.2,1835 L1790,1830 L1787.5,1810 L1785.5,1792.5 L1783.8,1775 L1782.5,1766.2 L1786.2,1765 L1782.5,1760 L1778.8,1750 L1775,1742.5 L1777.5,1730 L1775,1715 L1772.5,1700 L1775,1711 L1765,1696 L1757.5,1698.5 L1745,1691 L1732.5,1683.5 L1725,1681 L1732.5,1677.2 L1750,1666 L1760,1653.5 L1762.5,1641 L1770,1636 L1782.5,1611 L1792.5,1593 L1792.5,1581 L1762.5,1581.5 L1726.2,1583.5 L1726.2,1591.5 L1710,1591 L1711.2,1581 L1712.5,1561 L1710,1551 L1700,1548.5 L1700,1538.5 L1710,1532.2 L1722.5,1526 L1732.5,1518.5 L1738.8,1507.2 L1735,1503.5 L1735,1493.5 L1732.5,1496 L1731.2,1511 L1722.5,1519.8 L1710,1523.5 L1700,1526 L1690,1524.8 L1685,1536 L1675,1528.5 L1671.2,1521 L1667.5,1518.5 L1665,1526 L1655,1518.5 L1650,1508.5 L1645,1506 L1642.5,1498.5 L1640,1501 L1642.5,1508.5 L1650,1512.2 L1652.5,1521 L1662.5,1527.2 L1670,1536 L1675,1548.5 L1678.8,1561 L1680,1571 L1681.2,1583.5 L1676.2,1584.8 L1675,1573.5 L1670,1577.2 L1665,1571 L1657.5,1573.5 L1650,1567.2 L1645,1571 L1640,1558.5 L1645,1551 L1637.5,1551 L1635,1561 L1640,1571 L1637.5,1576 L1642.5,1586 L1647.5,1598.5 L1645,1608.5 L1642.5,1596 L1640,1581 L1636.2,1571 L1630,1561 L1625,1551 L1622.5,1541 L1620,1533.5 L1615,1526 L1605,1511 L1595,1493.5 L1586.2,1481 L1585,1468.5 L1575,1446 L1568.5,1438.1 L1563,1427.1 L1557.5,1418.2 L1549.7,1410.5 L1550.8,1404.9 L1557.5,1408.3 L1559.7,1397.2 L1561.9,1391.7 L1556.4,1388.3 L1555.3,1380.6 L1551.9,1370.6 L1549.7,1365.1 L1546.4,1358.5 L1537.5,1355.1 L1529.8,1351.8 L1524.3,1346.3 L1516.5,1343 L1513.2,1340.7 L1516.5,1336.3 L1514.3,1327.5 L1515.4,1321.9 L1528.7,1320.8 L1532,1316.4 L1534.2,1309.8 L1542,1302 L1553,1292.1 L1557.5,1281.5Z"/></clipPath>
<g clip-path="url(#bc)" fill="none" stroke="#6badd6" stroke-width="2.4" stroke-linejoin="round" stroke-linecap="round">
<path d="M160,43.8 L150,48.8 L140,52.5 L135,58.8 L125,62.5 L122.5,75 L115.5,86.2 L114.5,93.8 L117.5,105 L113.8,117.5 L114.5,125 L112,135 L117.5,138.8 L122.5,140 L123.8,150 L125,160 L127.5,172.5 L132.5,185 L140,200 L150,212.5 L160,220"/>
<path d="M277.5,51.2 L271.2,150 L263.8,252.5"/>
<path d="M400,59.5 L395,150 L388.8,245"/>
<path d="M508,63.8 L502.5,163.8 L560,167"/>
<path d="M571.2,136.2 L567,145 L568,155 L560,167 L555,175 L550,181.2 L540,190 L538.8,205 L546.2,212.5 L546.2,230 L553.8,240 L546.2,250 L540,257.5 L522.5,258.8 L513.8,265 L511.2,276.2 L509.5,315"/>
<path d="M511.2,276.2 L517.5,271.2 L532.5,268.8 L545,270 L553.8,261.2 L667.5,265 L670,220 L701.2,220.5"/>
<path d="M571.2,136.2 L590,136.2 L596.2,142.5 L596.2,152.5 L631.2,154.5 L632.5,145 L637.5,135 L641.2,124.5 L647.5,105 L657.5,87.5 L662.5,77.5 L672.5,67.5"/>
<path d="M641.2,124.5 L675,125.8 L674.5,142.5 L689.5,143 L685,220"/>
<path d="M863.8,177 L947,182.5 L1039.5,191.2 L1125,197.5 L1248.2,209.5 L1349.5,218.2 L1444,225 L1526.5,234.2 L1597.8,239.5 L1671.5,243.8"/>
<path d="M841.2,211.2 L832.5,220 L825,237.5 L818.8,255 L822.5,267.5 L810,275 L810,292.5 L802.5,305 L800,322.5 L795,335 L782.5,350 L782.5,350 L776.2,355 L772.5,365 L772.5,375 L767,388.8 L770,391.2 L771.2,403.8 L775,415 L785,421.2 L797.5,427.5 L805.5,430 L805,435 L800,450 L795,460 L798.8,472.5 L800,485 L805,493.8 L796.2,505 L790,501.2 L787.5,508.8 L775,505 L730,534.5"/>
<path d="M695,352 L775,354.5"/>
<path d="M841.2,212.5 L855,213 L855,238.8 L875,239.5 L875,243.8 L885,244.5 L885,265.5 L906.2,266.2 L907,281.2 L915,282 L915.5,291.2 L925,292"/>
<path d="M1039.5,191.2 L1033.2,196.2 L1035,206.2 L1024.5,220 L1012,226.2 L1007,237.5 L1005,248.8 L1000.8,255 L1004,261.2 L997,267.5 L974.5,269.5 L964.5,272.5 L952,276.2 L947,282.5 L935,285 L925,292 L915,302.5 L905,312.5 L907.5,322.5 L897.5,332.5 L900,342.5 L910,350 L910,350 L915.5,365 L917,385 L925,402.5 L935,412.5 L948.8,425"/>
<path d="M902.5,323.8 L947,324.5 L1049,327 L1049,338 L1099,339"/>
<path d="M694.5,352 L780,354.5"/>
<path d="M805.5,430 L810,422 L948.8,428"/>
<path d="M1125,197.5 L1124,217.5 L1127,230 L1132,240 L1130.8,245 L1133.2,250.8 L1113.2,250.8 L1112.5,270 L1102,281.2 L1099,400"/>
<path d="M1248.2,209.5 L1248.2,232 L1243.2,232.5 L1243.2,236.2 L1238.2,237 L1237,242 L1227,242 L1226.5,247.5 L1217,247.5 L1216.5,252 L1209.5,252.5 L1207,257.5 L1209.5,275 L1210.8,283.8 L1203.2,291.2 L1199.5,301.2 L1189.5,302.5 L1183.2,308.8 L1184.5,317.5 L1189.5,323.8 L1179.5,327.5 L1179.5,331.2 L1172,338.8 L1159.5,343.8 L1149.5,350 L1147,362.5 L1144.5,370 L1137,375 L1133.2,386.2 L1129.5,393.8 L1127,400"/>
<path d="M1179.5,330 L1287,332.5 L1287,347.5 L1357,348.8"/>
<path d="M1349.5,218.2 L1353.2,232.5 L1353.2,242.5 L1358.2,252.5 L1358.2,272.5 L1365,276.2 L1365,291.2 L1377,296.2 L1378.2,303.8"/>
<path d="M1540.2,296.2 L1537.8,307.5 L1530.2,320 L1526.5,326.2 L1519,327.5 L1504,325 L1494,321.2 L1491.5,322.5 L1476.5,315.5 L1466.5,313.8 L1457.8,305.5 L1444,291.2 L1432,290 L1409.5,291.2 L1408.2,286.2 L1394.5,290 L1384.5,297.5 L1378.2,303.8 L1372,315 L1367,322.5 L1367,332.5 L1359.5,340 L1357,348.8 L1353.2,355 L1355.8,362.5 L1353.2,375 L1359.5,388.8 L1362,405 L1360.8,400 L1374.5,406.2 L1392,405 L1408.2,413.8 L1422,427.5 L1430.8,440 L1440.8,445 L1445.8,458.8 L1452,462.5 L1454.5,477.5 L1465.8,483.8 L1467,492.5 L1462,506.2 L1449.5,508.8 L1452,516.2 L1445.8,525 L1447,535 L1443.2,542.5 L1447,550 L1440.8,552.5 L1442,565 L1435.8,577.5 L1439.5,587.5 L1445.8,590 L1443.2,600 L1433.2,607.5 L1432,632.5 L1422,640 L1418.2,655 L1405.8,665 L1404.5,672.5 L1392,680 L1379.5,683.8 L1374.5,690"/>
<path d="M1318.2,349.5 L1315,462 L1317,400 L1315,480 L1319.5,480.5 L1319,503.8 L1330.8,504.5 L1462,506.2"/>
<path d="M1330.8,504.5 L1329.5,520 L1322,532.5 L1319.5,550 L1314.5,560 L1304.5,558.8"/>
<path d="M1467,483.8 L1474.5,475 L1489.5,467.5 L1497,470 L1503.2,485 L1512,496.2 L1527,503.8 L1537,506.2 L1544.5,498.8 L1554.5,492.5 L1559.5,475 L1572,468.8 L1577,465 L1594,470 L1609,472.5 L1619,471.2 L1631.5,465 L1666.5,435 L1679,425 L1686.5,412.5 L1696.5,400"/>
<path d="M1494,360 L1494.5,400 L1493.2,448.8 L1503.2,449.5 L1504,456.2 L1489.5,467.5"/>
<path d="M1534,505 L1533.2,609.5 L1564,608.8 L1564.5,629.5 L1594,628.8"/>
<path d="M1445.8,588.8 L1472,590 L1502,592 L1502.5,599.5 L1533.2,599.5"/>
<path d="M1594,723.8 L1569,723.8 L1569,785"/>
<path d="M1500.8,797.5 L1517,787.5 L1532,791.2 L1547,796.2 L1554.5,788.8 L1569,785 L1584.5,782.5 L1594,783.8"/>
<path d="M1599,239.5 L1599,325 L1597.8,397.5"/>
<path d="M1671.5,243.8 L1666.5,252.5 L1669,262.5 L1677.8,272.5 L1676.5,282.5 L1675.2,295 L1680.2,310 L1687.8,317.5 L1704,316.2 L1721.5,318.8 L1727.8,315 L1727.8,295 L1734,275 L1735.2,250 L1731.5,230 L1725.2,212.5 L1727.8,182.5 L1734,175 L1735.2,166.2 L1751.5,162.5 L1755.2,155 L1769,156.2 L1771.5,153.8 L1779,165 L1794,166.2 L1804,175 L1819,175 L1824,182.5 L1844,186.2 L1856.5,190 L1869,193.8 L1884,197.5 L1901.5,203.8"/>
<path d="M1724,318.8 L1725.2,381.2 L1721.5,462 L1721.5,542.5 L1719,609.5"/>
<path d="M1802.8,268.8 L1724,350"/>
<path d="M1597.8,397.5 L1694,396.2 L1722.8,396.2"/>
<path d="M1725.2,381.2 L1837.8,381.2 L1834,390 L1837.8,405 L1849,401.2 L1881.5,407.5 L1881.5,411.2 L1912.8,411.2 L1912.8,358.8"/>
<path d="M1866.5,504.5 L1794,506.2 L1784,516.2 L1749,537 L1734,538.8 L1721.5,550"/>
<path d="M1859,460 L1862.8,462.5 L1859,475 L1866.5,504.5 L1874,520 L1884,532.5 L1886,582.5 L1884,625 L1894,640 L1897.8,660 L1906.5,665 L1915.2,661.2"/>
<path d="M1886,582.5 L1946.5,581.2 L1946.5,572.5 L1954,573.8 L1966.5,566.2 L1976.5,567.5 L1980.2,562.5"/>
<path d="M1916.5,668.8 L1917.8,710 L1999,707.5 L1999,655 L2011.5,652.5"/>
<path d="M1594,628.8 L1611.5,629.5 L1669,628.8 L1677.8,640 L1669,640 L1671.5,648.8 L1689,651.2 L1704,650 L1719,643.8 L1721.5,635 L1719,630"/>
<path d="M1611.5,629.5 L1611.5,724.5 L1594,724.5 L1569,723.8"/>
<path d="M1844,683.8 L1835.2,685 L1836.5,692.5 L1846.5,702.5 L1849,720 L1856.5,730 L1871.5,731.2 L1884,743.8 L1891.5,767.5 L1904,770 L1906.5,782.5 L1921.5,797.5 L1931.5,810 L1936.5,825 L1931.5,850 L1929,862"/>
<path d="M1849,712.5 L1849,785 L1842.8,786.2 L1841.5,815 L1639,816.2"/>
<path d="M1749,816.2 L1749,862 L1749.5,862 L1747.5,1047"/>
<path d="M1594,783.8 L1594,786.2 L1609,795 L1624,805 L1639,816.2 L1649,835 L1664,850 L1676.5,862 L1673.8,862 L1682.5,873.2 L1676.2,879.5 L1672.5,887 L1660,897 L1655,902 L1652.5,917 L1647.5,922 L1655,929.5 L1662.5,942 L1668.8,950.8 L1682.5,954.5 L1691.2,957 L1700,964.5 L1705,969.5 L1715.5,969"/>
<path d="M1651.5,501.2 L1681.5,500 L1696.5,507.5 L1701.5,520 L1714,530 L1721.5,540"/>
<path d="M1536.2,908.2 L1603.8,909 L1604.5,919 L1650,919"/>
<path d="M1523.8,1000.8 L1654.5,1001.5 L1654.5,986.5 L1715.5,987"/>
<path d="M1715.5,969 L1717,1044.5 L1730,1042 L1738.8,1048.2 L1747.5,1047"/>
<path d="M1717,1044.5 L1716.2,1064 L1700,1064.5 L1700,1094.5"/>
<path d="M1487.5,1092.5 L1715,1095 L1713.8,1324 L1713.8,1286 L1712.5,1391 L1711.2,1498.5"/>
<path d="M1528,1094.5 L1528.8,1144.5"/>
<path d="M1560,1281.5 L1713.8,1282 L1897,1284"/>
<path d="M1747.5,1034.5 L1777.5,1034 L1777.5,1029 L1798.8,1029 L1799.5,1034 L1897,1034.5 L2089.5,1034.5"/>
<path d="M1897,879 L1844.5,879 L1841.2,884.5 L1842.5,947 L1840.5,1034.5 L1841.2,1065.8 L1872.5,1066.5 L1882.5,1084.5 L1882.5,1106.5 L1897,1107 L1904,1107 L1904,1126.5 L1938.2,1127.5 L1938.2,1133.2 L1932,1134.5 L1930.8,1144.5 L1927,1153.2 L1920.8,1152 L1912,1142 L1907,1137 L1902,1139.5 L1904.5,1144.5 L1912,1149.5 L1917,1157 L1927,1159.5 L1932,1169.5 L1940.8,1179.5 L1947,1187 L1950.8,1202 L1957,1209.5 L1969.5,1212 L1977,1217 L1984.5,1232 L1992,1247 L1995.8,1259.5 L2002,1272 L2005.8,1284.5 L2003.2,1296 L1992,1311 L1980.8,1323.5 L1982,1336 L1992,1348.5 L2002,1361 L2012,1373.5 L2027,1378.5 L2034.5,1388.5 L2037,1398.5 L2047,1408.5 L2049.5,1421 L2062,1436 L2077,1448.5 L2087,1458.5"/>
<path d="M1868.8,1284 L1868.8,1324 L1868.8,1286 L1867,1391 L1868,1498.5 L1867,1592.2 L1866.2,1716 L1838.8,1717.2"/>
<path d="M1897,879 L1917,879 L1915.8,894.5 L1903.2,904.5 L1903.2,930.8 L1943.2,931.5 L1943.2,940.8 L1994.5,940.8"/>
<path d="M2057,940.8 L2057,877.5 L2112,877.5"/>
<path d="M1977,862 L1982,872 L1992,879.5 L2007,874.5 L2012,867 L2022,869.5 L2027,877 L2029.5,892 L2037,904.5 L2042,917 L2047,932 L2053.2,940.8"/>
<path d="M2084.5,1220.8 L2184.5,1220"/>
<path d="M1897,1283.2 L2002,1284.5 L2069.5,1285"/>
<path d="M2117,1314 L2247,1313.5"/>
<path d="M1551.2,1371 L1650,1373 L1650,1436 L1712,1436.8"/>
<path d="M1713.8,1390.5 L1750,1391 L1867.5,1390.5"/>
<path d="M1617.5,1528.5 L1648,1528 L1648.8,1499 L1711.2,1499 L1868,1500 L1947,1500.5 L1937,1497.2 L1938.2,1500.5 L1962,1500.5 L1962.5,1469.2 L1993.2,1468.5 L1993.2,1438 L2087,1438.5"/>
<path d="M1710,1591.5 L1792.5,1593 L1867,1593 L1900,1593.5 L1900,1589 L1908.8,1589 L1909.5,1594 L1947,1594 L2064.5,1594"/>
<path d="M1867,1683.5 L1947,1682.2 L1960.8,1683.5 L1962,1748 L1961.5,1776 L2085,1775"/>
<path d="M2147.5,1313.5 L2149,1461"/>
<path d="M2117,1314 L2247,1313.5"/>
<path d="M2149,1438.5 L2274.5,1439 L2274,1418.5 L2289.5,1418"/>
<path d="M2168.2,1527.2 L2319.5,1526.8 L2319,1521.5 L2332,1521"/>
<path d="M2084,1602.2 L2085,1748 L2085.8,1808 L2087.5,1873 L2088.2,2023 L2089.5,2098 L2091.5,2130.5"/>
<path d="M2085,1748.5 L2332,1748.5"/>
<path d="M2087.5,1873 L2149,1873.8 L2149.5,1881.8 L2273.2,1880.5 L2274,1876 L2329.5,1875.5"/>
<path d="M1964.5,1936 L2087,1936.8"/>
<path d="M1777.5,1750 L1785,1750.5 L1785,1753.8 L1837.5,1753.8"/>
<path d="M1837.5,1715 L1868,1716.2 L1868,1700"/>
<path d="M1960.8,1700 L1960.8,1776.2 L1997,1775.8"/>
<path d="M1965,1935 L1997,1935"/>
</g>
<g fill="#0096d6" stroke="#969696" stroke-width="1.8" stroke-linejoin="round">
<path d="M1496.6,1316.4 L1503.2,1318.6 L1508.8,1331.9 L1513.2,1345.2 L1514.3,1348.5 L1511,1347.4 L1507.7,1336.3 L1502.1,1325.3Z"/>
<path d="M1514.3,1352.9 L1520.9,1355.1 L1528.7,1366.2 L1537.5,1375.1 L1546.4,1386.1 L1551.9,1397.2 L1555.3,1404.9 L1553,1406 L1548.6,1397.2 L1542,1386.1 L1533.1,1375.1 L1524.3,1365.1 L1517.6,1358.5Z"/>
<path d="M1561.9,1416 L1566.3,1422.6 L1570.7,1431.5 L1575.2,1442.6 L1573,1443.7 L1568.5,1434.8 L1564.1,1426 L1561.3,1419.3Z"/>
</g>
<g fill="none" stroke="#969696" stroke-width="2.2" stroke-linejoin="round" stroke-linecap="round">
<path d="M691.2,447.5 L701.2,460 L705,473.8 L713.8,480 L717,492.5 L715,505 L716.2,512.5 L713.8,531.2 L697.5,537.5 L695,535 L688.8,520 L683.8,500 L681.2,475 L682.5,467.5 L687.5,465 L688.8,466.2 L685,480 L686.2,500 L691.2,520 L696.2,533.8 L713.8,531.2"/>
<path d="M697.5,537.5 L713.8,533.8 L730,534.5 L742.5,530 L762.5,526.2 L790,522.5 L797.5,528.8 L813.8,526.2 L815,520 L820,513.8 L828.8,512.5 L833.8,505 L828.8,500 L843.8,501.2 L847.5,495 L856.2,495 L856.2,502.5 L850,506.2 L846.2,517.5 L840,521.2 L847.5,525 L860,515 L875,510 L900,495 L925,478.8 L955,463.8 L975,457.5 L990,457.5 L1010,465 L1015,468.8 L1018.8,460 L1016.2,452.5 L1005,447.5 L990,446.2 L985,437.5 L982.5,427.5 L975,431.2 L960,437.5 L955,428.8 L948.8,425"/>
<path d="M982.5,427.5 L990,435 L1001.2,435 L1001.2,422.5 L1010,411.2 L1020,405 L1030,411.2 L1037.5,397.5 L1047.5,396.2 L1050,402.5 L1058.8,391.2 L1065,407.5 L1077.5,407.5 L1080,400 L1097,401.2 L1000.8,420 L1019.5,405 L1034.5,410 L1038.2,397.5 L1047,397.5 L1057,391.2 L1067,406.2 L1077,407.5 L1078.2,401.2 L1099,400 L1122,397.5 L1127,400 L1124.5,402.5 L1132,410 L1147,421.2 L1167,432.5 L1172,440 L1189.5,441.2 L1197,451.2 L1209.5,458.8 L1222,466.2 L1232,475 L1237,487.5 L1247,500 L1249.5,512.5 L1248.2,522.5 L1259.5,535 L1272,541.2 L1282,550 L1297,556.2 L1304.5,558.8 L1303.2,572.5 L1306.5,583.8 L1300.8,590 L1304.5,597.5 L1304,607.5 L1312,615 L1323.2,622.5 L1332,627.5 L1337,637.5 L1347,642.5 L1359.5,646.2 L1362,655 L1369.5,665 L1372,672.5 L1379.5,680 L1374.5,690 L1387,695 L1399.5,700 L1405.8,710 L1407,717.5 L1403.2,722.5 L1409.5,730 L1412,736.2 L1422,736.2 L1432,731.2 L1447,732.5 L1459.5,737.5 L1469.5,735 L1477,740 L1484.5,736.2 L1487,750 L1493.2,755 L1489.5,765 L1497,772.5 L1502,775 L1500.8,797.5 L1507,805 L1512,817.5 L1522,825 L1522,832.5 L1537,838.8 L1534.5,862"/>
<path d="M742.5,535 L755,532.5 L775,533.8 L783.8,537.5 L782.5,545 L776.2,550 L775,555 L767.5,555 L755,545 L743.8,538.8 L742.5,535"/>
<path d="M777.5,556.2 L792.5,571.2 L820,565 L850,550 L875,537.5 L890,530 L903.8,520 L905,513.8 L900,515 L882.5,530 L868.8,537.5 L832.5,552.5 L800,565 L790,565 L780,556.2 L777.5,556.2"/>
<path d="M913.8,506.2 L925,503.8 L942.5,497.5 L943.8,490 L940,491.2 L935,497.5 L922.5,501.2 L915,504.5 L913.8,506.2"/>
<path d="M1534.5,862 L1535,862 L1536.2,872 L1531.2,875.8 L1525,873.2 L1520,865.8 L1518.8,872 L1522.5,879.5 L1527.5,884.5 L1536.2,887 L1535,894.5 L1525,893.2 L1522.5,898.2 L1530,899.5 L1536.2,908.2 L1535,917 L1525,922 L1530,927 L1535,937 L1530,947 L1531.2,959.5 L1527.5,969.5 L1523.8,979.5 L1525,989.5 L1522.5,1000.8 L1513.8,1005.8 L1515,1012 L1511.2,1022 L1508.8,1034.5 L1505,1039.5 L1507.5,1047 L1500,1054.5 L1501.2,1064.5 L1495,1077 L1483.8,1084.5 L1487.5,1092 L1496.2,1094.5 L1492.5,1100.8 L1486.2,1097 L1482.5,1093.2 L1486.2,1104.5 L1488.8,1112 L1487.5,1124.5 L1485,1137 L1483.8,1149.5 L1480,1162 L1475,1172 L1470,1179.5 L1463.8,1187 L1462.5,1194.5 L1465,1204.5 L1472.5,1217 L1482.5,1232 L1490,1244.5 L1496.2,1257 L1497.5,1264.5 L1502.5,1272 L1507.5,1280.8 L1500,1279.5 L1502.5,1287 L1512.5,1284.5"/>
<path d="M1473.8,1124.5 L1471.2,1132 L1475,1134.5 L1476.2,1149.5 L1472.5,1167 L1468.8,1182 L1465.5,1192 L1467.5,1202 L1473.8,1212"/>
<path d="M1472.5,1217 L1475,1212 L1488.8,1217 L1487.5,1210.8 L1495,1210.8 L1492.5,1217 L1495,1224.5 L1500,1234.5 L1510,1244.5 L1517.5,1252 L1522.5,1260.8 L1536.2,1259.5 L1530,1254.5 L1532.5,1244.5 L1536.2,1232 L1541.2,1229.5 L1543.8,1217 L1540,1207 L1547.5,1198.2 L1556.2,1197 L1555,1193.2 L1543.8,1197 L1531.2,1192 L1525,1184.5 L1512.5,1179.5 L1503.8,1173.2 L1505,1168.2 L1530,1165.8 L1531.2,1163.2 L1512.5,1162 L1515,1159.5 L1520,1147 L1513.8,1137 L1527.5,1144.5 L1537.5,1147 L1542.5,1159.5 L1555,1162 L1560,1169.5 L1567,1174.5 L1565,1184.5 L1566.2,1197 L1560,1202 L1562.5,1212 L1572.5,1213.2 L1585,1217 L1585,1209.5 L1581.2,1197 L1578.8,1184.5 L1585,1179.5 L1586.2,1175.8 L1597.5,1177 L1600,1172 L1606.2,1174.5 L1600,1184.5 L1607.5,1194.5 L1608.8,1207 L1612.5,1214.5 L1607.5,1222 L1607.5,1229.5 L1597.5,1239.5 L1587.5,1243.2 L1583.8,1252 L1590,1254.5 L1580,1259.5 L1575,1264.5 L1570,1272 L1562.5,1274.5 L1561.2,1282 L1556.2,1285.8"/>
<path d="M1710,1591 L1707.5,1601 L1705,1611 L1702.5,1618.5 L1703.8,1631 L1707.5,1641 L1711.2,1651 L1710,1661 L1715,1671 L1725,1673.5 L1737.5,1668.5 L1747.5,1661 L1753.8,1651 L1756.2,1638.5 L1762.5,1631 L1772.5,1623.5 L1780,1621"/>
<path d="M1675,1613.5 L1685,1618.5 L1690,1631 L1693.8,1646 L1697.5,1661 L1700,1676 L1698.8,1688.5 L1695,1691 L1690,1676 L1685,1658.5 L1678.8,1641 L1672.5,1626 L1671.2,1616 L1675,1613.5"/>
<path d="M1647.5,1613.5 L1650,1623.5 L1655,1636 L1660,1651 L1662.5,1661 L1658.8,1656 L1653.8,1641 L1648.8,1628.5 L1646.2,1618.5 L1647.5,1613.5"/>
<path d="M1665,1671 L1670,1686 L1675,1698.5 L1687.5,1711 L1700,1716 L1712.5,1711 L1720,1706 L1715,1701 L1700,1706 L1687.5,1703.5 L1677.5,1691 L1670,1676 L1665,1671"/>
<path d="M1700,1641 L1710,1646 L1711.2,1656 L1705,1661 L1697.5,1653.5 L1696.2,1643.5 L1700,1641"/>
<path d="M1836.2,1875 L1832.5,1880 L1825,1885 L1820,1875 L1808.8,1876.2 L1811.2,1887.5 L1812.5,1895 L1825,1890 L1835,1892.5 L1845,1885 L1850,1890 L1862.5,1897.5 L1875,1892.5 L1882.5,1900 L1892.5,1901.2 L1900,1907.5 L1910,1915 L1925,1917.5 L1935,1925 L1940,1917.5 L1945,1927.5 L1957.5,1935 L1965,1935 L1967.5,1945 L1975,1952.5 L1987.5,1960 L1990,1975 L1982.5,1972.5 L1970,1965 L1960,1972.5 L1962.5,1987.5 L1970,2000 L1975,2015 L1985,2022.5 L1997,2020"/>
<path d="M1817.5,1902.5 L1827.5,1905 L1832.5,1912.5 L1830,1921.2 L1822.5,1912.5 L1817.5,1902.5"/>
<path d="M1907,1913 L1922,1918 L1939.5,1920.5 L1944.5,1933 L1964.5,1934.2 L1967,1948 L1982,1960.5 L1989.5,1973 L1982,1975.5 L1972,1968 L1962,1973 L1959.5,1988 L1967,1998 L1972,2015.5 L1984.5,2021.8 L1997,2016.8 L2004.5,2003 L2012,2001.8 L2007,2013 L2017,2016.8 L2037,2020.5 L2032,2025.5 L2037,2033 L2024.5,2030.5 L2012,2023 L1994.5,2023 L1982,2030.5 L1979.5,2040.5 L1992,2048 L1994.5,2063 L2002,2073 L1999.5,2083 L2017,2088 L2032,2100.5 L2047,2105.5 L2052,2098 L2057,2108 L2067,2123 L2077,2130.5 L2067,2138 L2047,2134.2 L2027,2130.5 L2022,2118 L2007,2105.5 L1999.5,2108 L1992,2135.5 L1999.5,2148 L2004.5,2163 L2019.5,2176.8 L2052,2170.5"/>
<path d="M1916,201.2 L1912.8,261.2 L1917.8,275 L1921.5,295 L1925.2,315 L1927.8,360 L1932.8,390 L1941,422.5 L1944,425 L1954,462.5 L1964,500 L1976.5,550 L1994,600 L2014,650 L2031.5,700 L2051.5,750 L2059.7,759.5 L2071.1,774 L2075.9,780.5 L2090.5,808.1 L2113.2,845.4 L2135.9,882.7 L2158.6,918.3 L2173.2,941 L2181.3,955.6 L2186.2,970.2 L2195.9,994.5 L2189.4,1002.6 L2176.4,1015.6 L2173.2,1027 L2173.2,1040.1 L2172,1062 L2174.5,1087 L2179.5,1112 L2187,1137 L2199.5,1162 L2212,1187 L2224.5,1212 L2234.5,1237 L2244.5,1262 L2252,1287 L2252,1286 L2259.5,1311 L2269.5,1343.5 L2277,1366 L2292,1406 L2307,1441 L2322,1476 L2334.5,1506 L2342,1531 L2347,1556 L2352,1586 L2353.8,1621 L2352.5,1661 L2350,1686 L2346.2,1711 L2343.2,1748 L2338.2,1773 L2333.2,1810.5 L2330.8,1848 L2330,1875.5 L2330.8,1903 L2328.2,1923 L2322,1948 L2319.5,1963 L2317,1973"/>
<path d="M1575,1446 L1568.5,1438.1 L1563,1427.1 L1557.5,1418.2 L1549.7,1410.5 L1550.8,1404.9 L1557.5,1408.3 L1559.7,1397.2 L1561.9,1391.7 L1556.4,1388.3 L1555.3,1380.6 L1551.9,1370.6 L1549.7,1365.1 L1546.4,1358.5 L1537.5,1355.1 L1529.8,1351.8 L1524.3,1346.3 L1516.5,1343 L1513.2,1340.7 L1516.5,1336.3 L1514.3,1327.5 L1515.4,1321.9 L1528.7,1320.8 L1532,1316.4 L1534.2,1309.8 L1542,1302 L1553,1292.1 L1557.5,1281.5"/>
<path d="M1837,1875 L1835,1868.8 L1827.5,1866.2 L1815,1865 L1808.8,1862.5 L1805,1855 L1802.5,1847.5 L1797.5,1840 L1795,1830 L1796.2,1815 L1793.8,1817.5 L1791.2,1835 L1790,1830 L1787.5,1810 L1785.5,1792.5 L1783.8,1775 L1782.5,1766.2 L1786.2,1765 L1782.5,1760 L1778.8,1750 L1775,1742.5 L1777.5,1730 L1775,1715 L1772.5,1700 L1775,1711 L1765,1696 L1757.5,1698.5 L1745,1691 L1732.5,1683.5 L1725,1681 L1732.5,1677.2 L1750,1666 L1760,1653.5 L1762.5,1641 L1770,1636"/>
<path d="M1710,1591 L1711.2,1581 L1712.5,1561 L1710,1551 L1700,1548.5 L1700,1538.5 L1710,1532.2 L1722.5,1526 L1732.5,1518.5 L1738.8,1507.2 L1735,1503.5 L1735,1493.5 L1732.5,1496 L1731.2,1511 L1722.5,1519.8 L1710,1523.5 L1700,1526 L1690,1524.8 L1685,1536 L1675,1528.5 L1671.2,1521 L1667.5,1518.5 L1665,1526 L1655,1518.5 L1650,1508.5 L1645,1506 L1642.5,1498.5 L1640,1501 L1642.5,1508.5 L1650,1512.2 L1652.5,1521 L1662.5,1527.2 L1670,1536 L1675,1548.5 L1678.8,1561 L1680,1571 L1681.2,1583.5 L1676.2,1584.8 L1675,1573.5 L1670,1577.2 L1665,1571 L1657.5,1573.5 L1650,1567.2 L1645,1571 L1640,1558.5 L1645,1551 L1637.5,1551 L1635,1561 L1640,1571 L1637.5,1576 L1642.5,1586 L1647.5,1598.5 L1645,1608.5 L1642.5,1596 L1640,1581 L1636.2,1571 L1630,1561 L1625,1551 L1622.5,1541 L1620,1533.5 L1615,1526 L1605,1511 L1595,1493.5 L1586.2,1481 L1585,1468.5 L1575,1446"/>
<path d="M2317,1973 L2313.2,1970.5 L2315.8,1960.5 L2287,1978 L2279.5,1990.5 L2272,2000.5 L2269.5,2013 L2267,2030.5 L2262,2048 L2263.2,2070.5 L2267,2093 L2257,2103 L2249.5,2115.5 L2239.5,2123 L2234.5,2135.5 L2224.5,2138 L2217,2143 L2204.5,2138 L2197,2145.5 L2189.5,2136.8 L2182,2140.5 L2182,2148 L2169.5,2150.5 L2162,2158 L2154.5,2168 L2157,2158 L2149.5,2160.5 L2142,2168 L2134.5,2165.5 L2127,2163 L2119.5,2165.5 L2112,2164.2 L2107,2156.8 L2099.5,2158 L2093.2,2154.2 L2092,2149.2 L2082,2148 L2069.5,2149.2 L2069.5,2144.2 L2079.5,2138 L2082,2131"/>
<path d="M2314,2033 L2310.8,2043 L2307,2054.2 L2302,2066.8 L2299.5,2071.8 L2301.5,2072.5 L2305,2065.5 L2309.5,2054.2 L2313.2,2043 L2315.5,2034.2 L2314,2033"/>
<path d="M2310,1966 L2317,1968 L2319.5,1979.2 L2315.8,1980.5 L2311.5,1973 L2310,1966"/>
</g>
<g fill="none" stroke-linejoin="round" stroke-linecap="butt">
<path d="M1907.63,263.074 L1912.47,276.447 L1919.73,315.661 L1922.31,360.317 L1922.37,360.904 L1927.37,390.904 L1927.47,391.346 L1935.67,423.846 L1935.84,424.396 L1936.06,424.926 L1936.34,425.429 L1936.68,425.9 L1937.06,426.334 L1937.48,426.725 L1939.14,428.106 L1958.67,501.376 L1971.16,551.334 L1971.31,551.817 L1988.81,601.817 L1988.89,602.043 L2008.85,651.931 L2026.31,701.817 L2026.39,702.043 L2046.39,752.043 L2046.65,752.593 L2046.97,753.113 L2047.34,753.594 L2055.45,762.998 L2066.78,777.399" stroke="#999" stroke-width="5.2"/>
<path d="M2127,1012 L2135,1035 L2146,1057 L2158,1085 L2170,1113 L2181,1138 L2190,1156 L2198,1172" stroke="#999" stroke-width="7"/>
<path d="M2166.71,1039.74 L2165.51,1061.64 L2165.5,1062.15 L2165.53,1062.65 L2168.03,1087.65 L2168.13,1088.27 L2173.13,1113.27 L2173.27,1113.87 L2180.77,1138.87 L2180.96,1139.4 L2181.19,1139.91 L2218.57,1214.67 L2238.36,1264.15 L2245.77,1288.87 L2245.99,1289.47 L2246.26,1290.05 L2246.59,1290.6 L2246.6,1290.61 L2253.27,1312.87 L2253.29,1312.91 L2263.29,1345.41 L2263.33,1345.56 L2270.83,1368.06 L2270.91,1368.28 L2285.91,1408.28 L2286.03,1408.56 L2316.01,1478.53 L2328.37,1508.19 L2335.69,1532.57 L2340.61,1557.17 L2345.53,1586.7 L2347.29,1621.06 L2346.01,1660.57 L2343.55,1685.19 L2339.77,1710.02 L2339.72,1710.47 L2336.75,1747.1 L2331.83,1771.73 L2331.76,1772.14 L2326.76,1809.64 L2326.71,1810.08 L2324.31,1847.58 L2324.3,1847.81 L2323.5,1875.31 L2323.5,1875.69 L2324.29,1902.67 L2321.8,1921.79 L2315.69,1946.44 L2315.59,1946.93 L2313.13,1961.68 L2310.69,1971.42" stroke="#999" stroke-width="6.4"/>
<path d="M1907.63,263.074 L1912.47,276.447 L1919.73,315.661 L1922.31,360.317 L1922.37,360.904 L1927.37,390.904 L1927.47,391.346 L1935.67,423.846 L1935.84,424.396 L1936.06,424.926 L1936.34,425.429 L1936.68,425.9 L1937.06,426.334 L1937.48,426.725 L1939.14,428.106 L1958.67,501.376 L1971.16,551.334 L1971.31,551.817 L1988.81,601.817 L1988.89,602.043 L2008.85,651.931 L2026.31,701.817 L2026.39,702.043 L2046.39,752.043 L2046.65,752.593 L2046.97,753.113 L2047.34,753.594 L2055.45,762.998 L2066.78,777.399" stroke="#fff" stroke-width="2.2"/>
<path d="M2127,1012 L2135,1035 L2146,1057 L2158,1085 L2170,1113 L2181,1138 L2190,1156 L2198,1172" stroke="#fff" stroke-width="4"/>
<path d="M2166.71,1039.74 L2165.51,1061.64 L2165.5,1062.15 L2165.53,1062.65 L2168.03,1087.65 L2168.13,1088.27 L2173.13,1113.27 L2173.27,1113.87 L2180.77,1138.87 L2180.96,1139.4 L2181.19,1139.91 L2218.57,1214.67 L2238.36,1264.15 L2245.77,1288.87 L2245.99,1289.47 L2246.26,1290.05 L2246.59,1290.6 L2246.6,1290.61 L2253.27,1312.87 L2253.29,1312.91 L2263.29,1345.41 L2263.33,1345.56 L2270.83,1368.06 L2270.91,1368.28 L2285.91,1408.28 L2286.03,1408.56 L2316.01,1478.53 L2328.37,1508.19 L2335.69,1532.57 L2340.61,1557.17 L2345.53,1586.7 L2347.29,1621.06 L2346.01,1660.57 L2343.55,1685.19 L2339.77,1710.02 L2339.72,1710.47 L2336.75,1747.1 L2331.83,1771.73 L2331.76,1772.14 L2326.76,1809.64 L2326.71,1810.08 L2324.31,1847.58 L2324.3,1847.81 L2323.5,1875.31 L2323.5,1875.69 L2324.29,1902.67 L2321.8,1921.79 L2315.69,1946.44 L2315.59,1946.93 L2313.13,1961.68 L2310.69,1971.42" stroke="#fff" stroke-width="3.2"/>
</g>
<circle cx="2115.5" cy="1287.5" r="46" fill="none" stroke="#fff" stroke-width="3"/>
<circle cx="1796" cy="1395.5" r="48.5" fill="none" stroke="#fff" stroke-width="3"/>
<circle cx="1812.5" cy="1559.75" r="48" fill="none" stroke="#fff" stroke-width="3"/>
<circle cx="2188" cy="1490.5" r="48" fill="none" stroke="#fff" stroke-width="3"/>
<circle cx="2262" cy="2065.5" r="47" fill="none" stroke="#fff" stroke-width="3"/>
<circle cx="1611.5" cy="1304" r="37.5" fill="none" stroke="#fff" stroke-width="3"/>
<path d="M108.25,218.25 L135,171.75 L161.75,218.25Z" fill="#66fafa" stroke="#fff" stroke-width="2" stroke-linejoin="miter"/>
<path d="M136.25,211.55 L163,165.05 L189.75,211.55Z" fill="#66fafa" stroke="#fff" stroke-width="2" stroke-linejoin="miter"/>
<path d="M573.25,346.75 L600,300.25 L626.75,346.75Z" fill="#66fafa" stroke="#fff" stroke-width="2" stroke-linejoin="miter"/>
<circle cx="700" cy="109.5" r="22" fill="#fae855"/>
<circle cx="1472.75" cy="338" r="22" fill="#fae855"/>
<circle cx="1501" cy="345" r="22" fill="#fae855"/>
<circle cx="1681.5" cy="341.25" r="22" fill="#fae855"/>
<circle cx="1662" cy="363" r="22" fill="#fae855"/>
<circle cx="1645" cy="445" r="22" fill="#fae855"/>
<circle cx="1771.5" cy="258.75" r="22" fill="#fae855"/>
<circle cx="1770.25" cy="533" r="22" fill="#fae855"/>
<circle cx="1716.5" cy="563.75" r="22" fill="#fae855"/>
<circle cx="1789" cy="586.25" r="22" fill="#fae855"/>
<circle cx="1912.75" cy="531.75" r="22" fill="#fae855"/>
<circle cx="2011.7" cy="803.7" r="22" fill="#fae855"/>
<path d="M1919.25,883.95 L1946,837.45 L1972.75,883.95Z" fill="#66fafa" stroke="#fff" stroke-width="2" stroke-linejoin="miter"/>
<circle cx="2147.3" cy="984.8" r="22" fill="#fae855"/>
<path d="M2094.45,1016.95 L2121.2,970.45 L2147.95,1016.95Z" fill="#66fafa" stroke="#fff" stroke-width="2" stroke-linejoin="miter"/>
<circle cx="1642.9" cy="1294.5" r="24" fill="#ffe100"/>
<circle cx="1672" cy="1305.9" r="22" fill="#fae855"/>
<path d="M1573.25,1319.65 L1600,1273.15 L1626.75,1319.65Z" fill="#66fafa" stroke="#fff" stroke-width="2" stroke-linejoin="miter"/>
<circle cx="2195.75" cy="1202" r="22" fill="#fae855"/>
<circle cx="2133.25" cy="1286" r="25" fill="#ffe100" stroke="#fff" stroke-width="1.6"/>
<path d="M2064.95,1309.95 L2091.7,1263.45 L2118.45,1309.95Z" fill="#66fafa" stroke="#fff" stroke-width="2" stroke-linejoin="miter"/>
<circle cx="2182" cy="1309.6" r="22" fill="#fae855"/>
<circle cx="2193.8" cy="1297" r="22" fill="#fae855"/>
<circle cx="2222.5" cy="1339" r="22" fill="#fae855"/>
<path d="M2256,1387 L2286.5,1356.5 L2317,1387 L2286.5,1417.5Z" fill="#faaae8"/>
<circle cx="2128.75" cy="1432.25" r="22" fill="#fae855"/>
<circle cx="2192" cy="1431.5" r="22" fill="#fae855"/>
<circle cx="2207" cy="1491" r="25.5" fill="#ffe100" stroke="#fff" stroke-width="1.6"/>
<circle cx="2213.25" cy="1491" r="22" fill="#fae855"/>
<path d="M2137.25,1513.4 L2164,1466.9 L2190.75,1513.4Z" fill="#66fafa" stroke="#fff" stroke-width="2" stroke-linejoin="miter"/>
<path d="M2218.75,1641.25 L2245.5,1594.75 L2272.25,1641.25Z" fill="#66fafa" stroke="#fff" stroke-width="2" stroke-linejoin="miter"/>
<circle cx="2258.25" cy="1596.75" r="22" fill="#fae855"/>
<path d="M2320.25,1617.75 L2347,1571.25 L2373.75,1617.75Z" fill="#66fafa" stroke="#fff" stroke-width="2" stroke-linejoin="miter"/>
<circle cx="1945.75" cy="1620.5" r="22" fill="#fae855"/>
<circle cx="2002" cy="1617.25" r="22" fill="#fae855"/>
<circle cx="1787.5" cy="1379.75" r="25" fill="#ffe100"/>
<circle cx="1813.75" cy="1397.25" r="25" fill="#ffe100"/>
<circle cx="1787.5" cy="1413.5" r="25" fill="#ffe100"/>
<rect x="1751" y="1377" width="39" height="39" fill="#ffa800" stroke="#fff3d8" stroke-width="1"/>
<circle cx="1806.25" cy="1392.25" r="22" fill="#fae855"/>
<circle cx="1833.75" cy="1559.75" r="25" fill="#ffe100"/>
<rect x="1771" y="1540" width="39" height="39" fill="#ffa800" stroke="#fff3d8" stroke-width="1"/>
<circle cx="1815.5" cy="1561" r="22" fill="#fae855"/>
<path d="M1770.75,1642.15 L1797.5,1595.65 L1824.25,1642.15Z" fill="#66fafa" stroke="#fff" stroke-width="2" stroke-linejoin="miter"/>
<path d="M2274.75,1864.75 L2301.5,1818.25 L2328.25,1864.75Z" fill="#66fafa" stroke="#fff" stroke-width="2" stroke-linejoin="miter"/>
<path d="M2300.25,1859.15 L2327,1812.65 L2353.75,1859.15Z" fill="#66fafa" stroke="#fff" stroke-width="2" stroke-linejoin="miter"/>
<rect x="2284.5" y="1818.5" width="39" height="39" fill="#ffa800" stroke="#fff3d8" stroke-width="1"/>
<rect x="2230.75" y="1926.75" width="39" height="39" fill="#ffa800"/>
<rect x="2278" y="1920.5" width="39" height="39" fill="#ffa800"/>
<rect x="2248" y="1938.5" width="39" height="39" fill="#ffa800"/>
<circle cx="2215" cy="1994.25" r="22" fill="#fae855"/>
<path d="M2209,2066.75 L2239.5,2036.25 L2270,2066.75 L2239.5,2097.25Z" fill="#faaae8" stroke="#fff" stroke-width="1.6"/>
<path d="M2257.75,2091.65 L2284.5,2045.15 L2311.25,2091.65Z" fill="#66fafa" stroke="#fff" stroke-width="2" stroke-linejoin="miter"/>
<rect x="2052" y="2149" width="39" height="39" fill="#ffa800" stroke="#fff3d8" stroke-width="1"/>
<rect x="140.3" y="1296.2" width="125" height="62.8" fill="#0096d6" stroke="#0a6aa0" stroke-width="1.5"/>
<rect x="140.4" y="1381.3" width="124.4" height="62.5" fill="#7172b5"/>
<text x="287.7" y="1343" font-size="41.5" font-weight="bold" id="t1">FPL Segment Service Area</text>
<text x="822.5" y="1338" font-size="40" id="a1">*</text>
<text x="288.3" y="1428" font-size="41.6" font-weight="bold" id="t2">Counties With Areas Served By Gulf Power</text>
<text x="1144" y="1416.3" font-size="40" id="a2">*</text>
<path d="M149,1579 L176,1532.5 L202.5,1579Z" fill="#66fafa"/>
<path d="M146,1638.5 L176,1608.5 L206,1638.5 L176,1668.5Z" fill="#faaae8"/>
<circle cx="175" cy="1723.5" r="25" fill="#ffe100"/>
<rect x="155" y="1789" width="39" height="39" fill="#ffa800"/>
<text x="259.3" y="1570" font-size="42.1" font-weight="bold" id="t3">Natural Gas</text>
<text x="259.3" y="1654" font-size="42.1" font-weight="bold" id="t4">Nuclear</text>
<text x="259.3" y="1738.5" font-size="42.1" font-weight="bold" id="t5">Universal Solar</text>
<text x="259.3" y="1824" font-size="42.1" font-weight="bold" id="t6">Battery</text>
<text x="165.5" y="1991.5" font-size="33.2" id="t7" xml:space="preserve">*Plant Scherer in GA;  Plant Daniel in MS</text>
</svg></body></html>
